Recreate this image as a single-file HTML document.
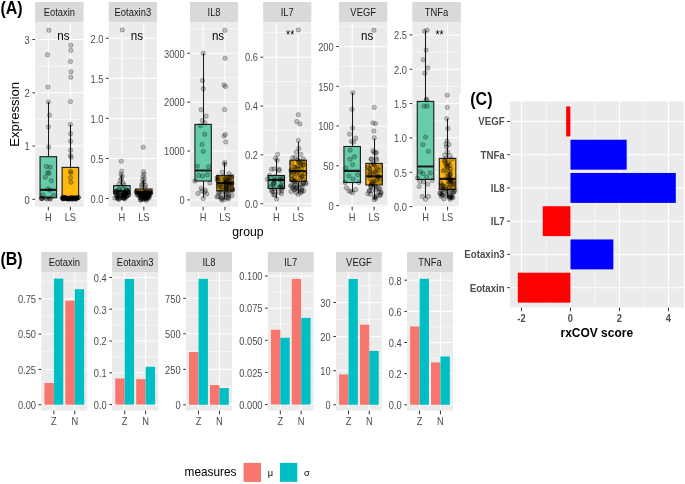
<!DOCTYPE html>
<html><head><meta charset="utf-8"><style>
html,body{margin:0;padding:0;background:#fff;}
body{width:685px;height:484px;overflow:hidden;font-family:"Liberation Sans", sans-serif;}
svg{display:block;}
</style></head><body>
<svg width="685" height="484" viewBox="0 0 685 484" font-family='"Liberation Sans", sans-serif'><defs><clipPath id="cAEotaxin"><rect x="35.1" y="22.3" width="48.49999999999999" height="184.39999999999998"/></clipPath><clipPath id="cAEotaxin3"><rect x="108.7" y="22.3" width="48.3" height="184.39999999999998"/></clipPath><clipPath id="cAIL8"><rect x="190.0" y="22.3" width="48.099999999999994" height="184.39999999999998"/></clipPath><clipPath id="cAIL7"><rect x="263.2" y="22.3" width="48.10000000000002" height="184.39999999999998"/></clipPath><clipPath id="cAVEGF"><rect x="339.0" y="22.3" width="48.30000000000001" height="184.39999999999998"/></clipPath><clipPath id="cATNFa"><rect x="412.3" y="22.3" width="48.5" height="184.39999999999998"/></clipPath><filter id="soft" filterUnits="userSpaceOnUse" x="0" y="0" width="685" height="484" color-interpolation-filters="sRGB"><feGaussianBlur stdDeviation="0.3"/></filter></defs><g filter="url(#soft)"><rect x="0" y="0" width="685" height="484" fill="#fff"/><rect x="35.10" y="2.00" width="48.50" height="20.30" fill="#D9D9D9" />
<text transform="translate(59.35,16.00) scale(1,1.1)" font-size="9.4" text-anchor="middle" fill="#1A1A1A" font-weight="normal" >Eotaxin</text>
<rect x="35.10" y="22.30" width="48.50" height="184.40" fill="#EBEBEB" />
<g clip-path="url(#cAEotaxin)">
<line x1="35.10" y1="172.68" x2="83.60" y2="172.68" stroke="#fff" stroke-width="0.55" />
<line x1="35.10" y1="119.43" x2="83.60" y2="119.43" stroke="#fff" stroke-width="0.55" />
<line x1="35.10" y1="66.18" x2="83.60" y2="66.18" stroke="#fff" stroke-width="0.55" />
<line x1="35.10" y1="199.30" x2="83.60" y2="199.30" stroke="#fff" stroke-width="1.05" />
<line x1="35.10" y1="146.05" x2="83.60" y2="146.05" stroke="#fff" stroke-width="1.05" />
<line x1="35.10" y1="92.80" x2="83.60" y2="92.80" stroke="#fff" stroke-width="1.05" />
<line x1="35.10" y1="39.55" x2="83.60" y2="39.55" stroke="#fff" stroke-width="1.05" />
<line x1="48.33" y1="22.30" x2="48.33" y2="206.70" stroke="#fff" stroke-width="1.05" />
<line x1="70.37" y1="22.30" x2="70.37" y2="206.70" stroke="#fff" stroke-width="1.05" />
<line x1="48.50" y1="102.00" x2="48.50" y2="156.70" stroke="#1a1a1a" stroke-width="1.05" />
<line x1="48.50" y1="197.80" x2="48.50" y2="199.00" stroke="#1a1a1a" stroke-width="1.05" />
<rect x="40.06" y="156.70" width="16.53" height="41.10" fill="#66CDAA" stroke="#1a1a1a" stroke-width="1.1"/>
<line x1="40.06" y1="189.80" x2="56.59" y2="189.80" stroke="#1a1a1a" stroke-width="2.2" />
<line x1="70.50" y1="124.40" x2="70.50" y2="167.40" stroke="#1a1a1a" stroke-width="1.05" />
<line x1="70.50" y1="198.60" x2="70.50" y2="199.00" stroke="#1a1a1a" stroke-width="1.05" />
<rect x="62.11" y="167.40" width="16.53" height="31.20" fill="#FFB90F" stroke="#1a1a1a" stroke-width="1.1"/>
<line x1="62.11" y1="198.30" x2="78.64" y2="198.30" stroke="#1a1a1a" stroke-width="2.2" />
<circle cx="48.80" cy="30.30" r="2.2" fill="rgba(0,0,0,0.22)" stroke="rgba(0,0,0,0.32)" stroke-width="0.75"/>
<circle cx="47.50" cy="54.70" r="2.2" fill="rgba(0,0,0,0.22)" stroke="rgba(0,0,0,0.32)" stroke-width="0.75"/>
<circle cx="48.00" cy="87.10" r="2.2" fill="rgba(0,0,0,0.22)" stroke="rgba(0,0,0,0.32)" stroke-width="0.75"/>
<circle cx="48.40" cy="101.90" r="2.2" fill="rgba(0,0,0,0.22)" stroke="rgba(0,0,0,0.32)" stroke-width="0.75"/>
<circle cx="49.50" cy="115.10" r="2.2" fill="rgba(0,0,0,0.22)" stroke="rgba(0,0,0,0.32)" stroke-width="0.75"/>
<circle cx="48.40" cy="126.90" r="2.2" fill="rgba(0,0,0,0.22)" stroke="rgba(0,0,0,0.32)" stroke-width="0.75"/>
<circle cx="48.60" cy="146.90" r="2.2" fill="rgba(0,0,0,0.22)" stroke="rgba(0,0,0,0.32)" stroke-width="0.75"/>
<circle cx="46.40" cy="166.50" r="2.2" fill="rgba(0,0,0,0.22)" stroke="rgba(0,0,0,0.32)" stroke-width="0.75"/>
<circle cx="50.10" cy="167.30" r="2.2" fill="rgba(0,0,0,0.22)" stroke="rgba(0,0,0,0.32)" stroke-width="0.75"/>
<circle cx="47.60" cy="172.60" r="2.2" fill="rgba(0,0,0,0.22)" stroke="rgba(0,0,0,0.32)" stroke-width="0.75"/>
<circle cx="49.00" cy="173.20" r="2.2" fill="rgba(0,0,0,0.22)" stroke="rgba(0,0,0,0.32)" stroke-width="0.75"/>
<circle cx="45.30" cy="177.20" r="2.2" fill="rgba(0,0,0,0.22)" stroke="rgba(0,0,0,0.32)" stroke-width="0.75"/>
<circle cx="51.30" cy="180.70" r="2.2" fill="rgba(0,0,0,0.22)" stroke="rgba(0,0,0,0.32)" stroke-width="0.75"/>
<circle cx="47.90" cy="188.80" r="2.2" fill="rgba(0,0,0,0.22)" stroke="rgba(0,0,0,0.32)" stroke-width="0.75"/>
<circle cx="50.00" cy="190.20" r="2.2" fill="rgba(0,0,0,0.22)" stroke="rgba(0,0,0,0.32)" stroke-width="0.75"/>
<circle cx="43.00" cy="194.90" r="2.2" fill="rgba(0,0,0,0.22)" stroke="rgba(0,0,0,0.32)" stroke-width="0.75"/>
<circle cx="53.70" cy="195.30" r="2.2" fill="rgba(0,0,0,0.22)" stroke="rgba(0,0,0,0.32)" stroke-width="0.75"/>
<circle cx="45.66" cy="198.18" r="2.2" fill="rgba(0,0,0,0.22)" stroke="rgba(0,0,0,0.32)" stroke-width="0.75"/>
<circle cx="50.56" cy="198.09" r="2.2" fill="rgba(0,0,0,0.22)" stroke="rgba(0,0,0,0.32)" stroke-width="0.75"/>
<circle cx="48.84" cy="198.44" r="2.2" fill="rgba(0,0,0,0.22)" stroke="rgba(0,0,0,0.32)" stroke-width="0.75"/>
<circle cx="41.67" cy="198.61" r="2.2" fill="rgba(0,0,0,0.22)" stroke="rgba(0,0,0,0.32)" stroke-width="0.75"/>
<circle cx="41.36" cy="198.52" r="2.2" fill="rgba(0,0,0,0.22)" stroke="rgba(0,0,0,0.32)" stroke-width="0.75"/>
<circle cx="41.85" cy="198.11" r="2.2" fill="rgba(0,0,0,0.22)" stroke="rgba(0,0,0,0.32)" stroke-width="0.75"/>
<circle cx="47.17" cy="198.99" r="2.2" fill="rgba(0,0,0,0.22)" stroke="rgba(0,0,0,0.32)" stroke-width="0.75"/>
<circle cx="42.66" cy="198.27" r="2.2" fill="rgba(0,0,0,0.22)" stroke="rgba(0,0,0,0.32)" stroke-width="0.75"/>
<circle cx="50.21" cy="199.14" r="2.2" fill="rgba(0,0,0,0.22)" stroke="rgba(0,0,0,0.32)" stroke-width="0.75"/>
<circle cx="70.80" cy="45.20" r="2.2" fill="rgba(0,0,0,0.22)" stroke="rgba(0,0,0,0.32)" stroke-width="0.75"/>
<circle cx="70.80" cy="50.40" r="2.2" fill="rgba(0,0,0,0.22)" stroke="rgba(0,0,0,0.32)" stroke-width="0.75"/>
<circle cx="70.50" cy="61.50" r="2.2" fill="rgba(0,0,0,0.22)" stroke="rgba(0,0,0,0.32)" stroke-width="0.75"/>
<circle cx="71.00" cy="71.80" r="2.2" fill="rgba(0,0,0,0.22)" stroke="rgba(0,0,0,0.32)" stroke-width="0.75"/>
<circle cx="70.80" cy="77.20" r="2.2" fill="rgba(0,0,0,0.22)" stroke="rgba(0,0,0,0.32)" stroke-width="0.75"/>
<circle cx="70.50" cy="101.60" r="2.2" fill="rgba(0,0,0,0.22)" stroke="rgba(0,0,0,0.32)" stroke-width="0.75"/>
<circle cx="70.40" cy="124.40" r="2.2" fill="rgba(0,0,0,0.22)" stroke="rgba(0,0,0,0.32)" stroke-width="0.75"/>
<circle cx="70.60" cy="133.70" r="2.2" fill="rgba(0,0,0,0.22)" stroke="rgba(0,0,0,0.32)" stroke-width="0.75"/>
<circle cx="70.60" cy="141.30" r="2.2" fill="rgba(0,0,0,0.22)" stroke="rgba(0,0,0,0.32)" stroke-width="0.75"/>
<circle cx="70.60" cy="150.20" r="2.2" fill="rgba(0,0,0,0.22)" stroke="rgba(0,0,0,0.32)" stroke-width="0.75"/>
<circle cx="70.40" cy="155.60" r="2.2" fill="rgba(0,0,0,0.22)" stroke="rgba(0,0,0,0.32)" stroke-width="0.75"/>
<circle cx="71.20" cy="157.30" r="2.2" fill="rgba(0,0,0,0.22)" stroke="rgba(0,0,0,0.32)" stroke-width="0.75"/>
<circle cx="70.50" cy="171.30" r="2.2" fill="rgba(0,0,0,0.22)" stroke="rgba(0,0,0,0.32)" stroke-width="0.75"/>
<circle cx="71.00" cy="173.00" r="2.2" fill="rgba(0,0,0,0.22)" stroke="rgba(0,0,0,0.32)" stroke-width="0.75"/>
<circle cx="70.50" cy="177.70" r="2.2" fill="rgba(0,0,0,0.22)" stroke="rgba(0,0,0,0.32)" stroke-width="0.75"/>
<circle cx="71.00" cy="182.30" r="2.2" fill="rgba(0,0,0,0.22)" stroke="rgba(0,0,0,0.32)" stroke-width="0.75"/>
<circle cx="63.00" cy="197.00" r="2.2" fill="rgba(0,0,0,0.22)" stroke="rgba(0,0,0,0.32)" stroke-width="0.75"/>
<circle cx="71.76" cy="198.11" r="2.2" fill="rgba(0,0,0,0.22)" stroke="rgba(0,0,0,0.32)" stroke-width="0.75"/>
<circle cx="78.31" cy="197.48" r="2.2" fill="rgba(0,0,0,0.22)" stroke="rgba(0,0,0,0.32)" stroke-width="0.75"/>
<circle cx="76.38" cy="197.92" r="2.2" fill="rgba(0,0,0,0.22)" stroke="rgba(0,0,0,0.32)" stroke-width="0.75"/>
<circle cx="64.67" cy="197.61" r="2.2" fill="rgba(0,0,0,0.22)" stroke="rgba(0,0,0,0.32)" stroke-width="0.75"/>
<circle cx="67.36" cy="198.87" r="2.2" fill="rgba(0,0,0,0.22)" stroke="rgba(0,0,0,0.32)" stroke-width="0.75"/>
<circle cx="65.26" cy="198.45" r="2.2" fill="rgba(0,0,0,0.22)" stroke="rgba(0,0,0,0.32)" stroke-width="0.75"/>
<circle cx="72.78" cy="198.07" r="2.2" fill="rgba(0,0,0,0.22)" stroke="rgba(0,0,0,0.32)" stroke-width="0.75"/>
<circle cx="71.28" cy="197.51" r="2.2" fill="rgba(0,0,0,0.22)" stroke="rgba(0,0,0,0.32)" stroke-width="0.75"/>
<circle cx="63.28" cy="197.77" r="2.2" fill="rgba(0,0,0,0.22)" stroke="rgba(0,0,0,0.32)" stroke-width="0.75"/>
<circle cx="73.46" cy="198.17" r="2.2" fill="rgba(0,0,0,0.22)" stroke="rgba(0,0,0,0.32)" stroke-width="0.75"/>
<circle cx="67.45" cy="198.45" r="2.2" fill="rgba(0,0,0,0.22)" stroke="rgba(0,0,0,0.32)" stroke-width="0.75"/>
<circle cx="69.73" cy="197.94" r="2.2" fill="rgba(0,0,0,0.22)" stroke="rgba(0,0,0,0.32)" stroke-width="0.75"/>
<circle cx="75.33" cy="198.66" r="2.2" fill="rgba(0,0,0,0.22)" stroke="rgba(0,0,0,0.32)" stroke-width="0.75"/>
<circle cx="66.30" cy="198.43" r="2.2" fill="rgba(0,0,0,0.22)" stroke="rgba(0,0,0,0.32)" stroke-width="0.75"/>
<circle cx="70.91" cy="198.98" r="2.2" fill="rgba(0,0,0,0.22)" stroke="rgba(0,0,0,0.32)" stroke-width="0.75"/>
<circle cx="74.26" cy="197.92" r="2.2" fill="rgba(0,0,0,0.22)" stroke="rgba(0,0,0,0.32)" stroke-width="0.75"/>
<circle cx="78.37" cy="197.61" r="2.2" fill="rgba(0,0,0,0.22)" stroke="rgba(0,0,0,0.32)" stroke-width="0.75"/>
<circle cx="69.16" cy="198.76" r="2.2" fill="rgba(0,0,0,0.22)" stroke="rgba(0,0,0,0.32)" stroke-width="0.75"/>
<circle cx="64.79" cy="198.28" r="2.2" fill="rgba(0,0,0,0.22)" stroke="rgba(0,0,0,0.32)" stroke-width="0.75"/>
<circle cx="62.94" cy="198.60" r="2.2" fill="rgba(0,0,0,0.22)" stroke="rgba(0,0,0,0.32)" stroke-width="0.75"/>
<circle cx="74.84" cy="198.43" r="2.2" fill="rgba(0,0,0,0.22)" stroke="rgba(0,0,0,0.32)" stroke-width="0.75"/>
<circle cx="76.66" cy="197.96" r="2.2" fill="rgba(0,0,0,0.22)" stroke="rgba(0,0,0,0.32)" stroke-width="0.75"/>
<circle cx="73.70" cy="198.47" r="2.2" fill="rgba(0,0,0,0.22)" stroke="rgba(0,0,0,0.32)" stroke-width="0.75"/>
<circle cx="71.81" cy="198.22" r="2.2" fill="rgba(0,0,0,0.22)" stroke="rgba(0,0,0,0.32)" stroke-width="0.75"/>
<circle cx="76.08" cy="199.10" r="2.2" fill="rgba(0,0,0,0.22)" stroke="rgba(0,0,0,0.32)" stroke-width="0.75"/>
<circle cx="70.08" cy="198.60" r="2.2" fill="rgba(0,0,0,0.22)" stroke="rgba(0,0,0,0.32)" stroke-width="0.75"/>
<circle cx="63.29" cy="198.66" r="2.2" fill="rgba(0,0,0,0.22)" stroke="rgba(0,0,0,0.32)" stroke-width="0.75"/>
<circle cx="72.91" cy="199.19" r="2.2" fill="rgba(0,0,0,0.22)" stroke="rgba(0,0,0,0.32)" stroke-width="0.75"/>
<circle cx="75.78" cy="197.91" r="2.2" fill="rgba(0,0,0,0.22)" stroke="rgba(0,0,0,0.32)" stroke-width="0.75"/>
<circle cx="68.63" cy="198.60" r="2.2" fill="rgba(0,0,0,0.22)" stroke="rgba(0,0,0,0.32)" stroke-width="0.75"/>
<circle cx="62.67" cy="198.23" r="2.2" fill="rgba(0,0,0,0.22)" stroke="rgba(0,0,0,0.32)" stroke-width="0.75"/>
<circle cx="65.06" cy="197.61" r="2.2" fill="rgba(0,0,0,0.22)" stroke="rgba(0,0,0,0.32)" stroke-width="0.75"/>
<circle cx="63.27" cy="198.78" r="2.2" fill="rgba(0,0,0,0.22)" stroke="rgba(0,0,0,0.32)" stroke-width="0.75"/>
<circle cx="64.42" cy="197.85" r="2.2" fill="rgba(0,0,0,0.22)" stroke="rgba(0,0,0,0.32)" stroke-width="0.75"/>
<circle cx="68.71" cy="198.97" r="2.2" fill="rgba(0,0,0,0.22)" stroke="rgba(0,0,0,0.32)" stroke-width="0.75"/>
<circle cx="63.62" cy="198.21" r="2.2" fill="rgba(0,0,0,0.22)" stroke="rgba(0,0,0,0.32)" stroke-width="0.75"/>
<circle cx="71.31" cy="198.99" r="2.2" fill="rgba(0,0,0,0.22)" stroke="rgba(0,0,0,0.32)" stroke-width="0.75"/>
<circle cx="75.74" cy="198.96" r="2.2" fill="rgba(0,0,0,0.22)" stroke="rgba(0,0,0,0.32)" stroke-width="0.75"/>
<circle cx="66.87" cy="198.15" r="2.2" fill="rgba(0,0,0,0.22)" stroke="rgba(0,0,0,0.32)" stroke-width="0.75"/>
<circle cx="68.18" cy="198.99" r="2.2" fill="rgba(0,0,0,0.22)" stroke="rgba(0,0,0,0.32)" stroke-width="0.75"/>
<circle cx="78.01" cy="197.67" r="2.2" fill="rgba(0,0,0,0.22)" stroke="rgba(0,0,0,0.32)" stroke-width="0.75"/>
<circle cx="65.19" cy="197.82" r="2.2" fill="rgba(0,0,0,0.22)" stroke="rgba(0,0,0,0.32)" stroke-width="0.75"/>
<circle cx="66.13" cy="198.27" r="2.2" fill="rgba(0,0,0,0.22)" stroke="rgba(0,0,0,0.32)" stroke-width="0.75"/>
<circle cx="71.96" cy="197.87" r="2.2" fill="rgba(0,0,0,0.22)" stroke="rgba(0,0,0,0.32)" stroke-width="0.75"/>
<circle cx="62.37" cy="198.15" r="2.2" fill="rgba(0,0,0,0.22)" stroke="rgba(0,0,0,0.32)" stroke-width="0.75"/>
</g>
<text transform="translate(63.35,39.60) scale(1,1.1)" font-size="11.6" text-anchor="middle" fill="#000" font-weight="normal" >ns</text>
<line x1="32.40" y1="199.30" x2="35.10" y2="199.30" stroke="#333" stroke-width="1.0" />
<text transform="translate(29.80,203.60) scale(1,1.15)" font-size="9.3" text-anchor="end" fill="#4D4D4D" font-weight="normal" >0</text>
<line x1="32.40" y1="146.05" x2="35.10" y2="146.05" stroke="#333" stroke-width="1.0" />
<text transform="translate(29.80,150.35) scale(1,1.15)" font-size="9.3" text-anchor="end" fill="#4D4D4D" font-weight="normal" >1</text>
<line x1="32.40" y1="92.80" x2="35.10" y2="92.80" stroke="#333" stroke-width="1.0" />
<text transform="translate(29.80,97.10) scale(1,1.15)" font-size="9.3" text-anchor="end" fill="#4D4D4D" font-weight="normal" >2</text>
<line x1="32.40" y1="39.55" x2="35.10" y2="39.55" stroke="#333" stroke-width="1.0" />
<text transform="translate(29.80,43.85) scale(1,1.15)" font-size="9.3" text-anchor="end" fill="#4D4D4D" font-weight="normal" >3</text>
<line x1="48.33" y1="206.70" x2="48.33" y2="210.40" stroke="#333" stroke-width="1.0" />
<text transform="translate(48.33,220.80) scale(1,1.15)" font-size="9.3" text-anchor="middle" fill="#4D4D4D" font-weight="normal" >H</text>
<line x1="70.37" y1="206.70" x2="70.37" y2="210.40" stroke="#333" stroke-width="1.0" />
<text transform="translate(70.37,220.80) scale(1,1.15)" font-size="9.3" text-anchor="middle" fill="#4D4D4D" font-weight="normal" >LS</text>
<rect x="108.70" y="2.00" width="48.30" height="20.30" fill="#D9D9D9" />
<text transform="translate(132.85,16.00) scale(1,1.1)" font-size="9.4" text-anchor="middle" fill="#1A1A1A" font-weight="normal" >Eotaxin3</text>
<rect x="108.70" y="22.30" width="48.30" height="184.40" fill="#EBEBEB" />
<g clip-path="url(#cAEotaxin3)">
<line x1="108.70" y1="178.47" x2="157.00" y2="178.47" stroke="#fff" stroke-width="0.55" />
<line x1="108.70" y1="138.43" x2="157.00" y2="138.43" stroke="#fff" stroke-width="0.55" />
<line x1="108.70" y1="98.38" x2="157.00" y2="98.38" stroke="#fff" stroke-width="0.55" />
<line x1="108.70" y1="58.33" x2="157.00" y2="58.33" stroke="#fff" stroke-width="0.55" />
<line x1="108.70" y1="198.50" x2="157.00" y2="198.50" stroke="#fff" stroke-width="1.05" />
<line x1="108.70" y1="158.45" x2="157.00" y2="158.45" stroke="#fff" stroke-width="1.05" />
<line x1="108.70" y1="118.40" x2="157.00" y2="118.40" stroke="#fff" stroke-width="1.05" />
<line x1="108.70" y1="78.35" x2="157.00" y2="78.35" stroke="#fff" stroke-width="1.05" />
<line x1="108.70" y1="38.30" x2="157.00" y2="38.30" stroke="#fff" stroke-width="1.05" />
<line x1="121.87" y1="22.30" x2="121.87" y2="206.70" stroke="#fff" stroke-width="1.05" />
<line x1="143.83" y1="22.30" x2="143.83" y2="206.70" stroke="#fff" stroke-width="1.05" />
<line x1="121.50" y1="174.80" x2="121.50" y2="185.60" stroke="#1a1a1a" stroke-width="1.05" />
<line x1="121.50" y1="193.80" x2="121.50" y2="198.00" stroke="#1a1a1a" stroke-width="1.05" />
<rect x="113.64" y="185.60" width="16.47" height="8.20" fill="#66CDAA" stroke="#1a1a1a" stroke-width="1.1"/>
<line x1="113.64" y1="191.40" x2="130.11" y2="191.40" stroke="#1a1a1a" stroke-width="2.2" />
<line x1="143.50" y1="180.00" x2="143.50" y2="189.00" stroke="#1a1a1a" stroke-width="1.05" />
<line x1="143.50" y1="194.20" x2="143.50" y2="199.50" stroke="#1a1a1a" stroke-width="1.05" />
<rect x="135.59" y="189.00" width="16.47" height="5.20" fill="#FFB90F" stroke="#1a1a1a" stroke-width="1.1"/>
<line x1="135.59" y1="191.80" x2="152.06" y2="191.80" stroke="#1a1a1a" stroke-width="2.2" />
<circle cx="122.30" cy="29.90" r="2.2" fill="rgba(0,0,0,0.22)" stroke="rgba(0,0,0,0.32)" stroke-width="0.75"/>
<circle cx="121.30" cy="161.20" r="2.2" fill="rgba(0,0,0,0.22)" stroke="rgba(0,0,0,0.32)" stroke-width="0.75"/>
<circle cx="121.70" cy="171.10" r="2.2" fill="rgba(0,0,0,0.22)" stroke="rgba(0,0,0,0.32)" stroke-width="0.75"/>
<circle cx="121.00" cy="174.20" r="2.2" fill="rgba(0,0,0,0.22)" stroke="rgba(0,0,0,0.32)" stroke-width="0.75"/>
<circle cx="122.20" cy="176.00" r="2.2" fill="rgba(0,0,0,0.22)" stroke="rgba(0,0,0,0.32)" stroke-width="0.75"/>
<circle cx="121.50" cy="178.50" r="2.2" fill="rgba(0,0,0,0.22)" stroke="rgba(0,0,0,0.32)" stroke-width="0.75"/>
<circle cx="120.50" cy="180.50" r="2.2" fill="rgba(0,0,0,0.22)" stroke="rgba(0,0,0,0.32)" stroke-width="0.75"/>
<circle cx="122.80" cy="182.80" r="2.2" fill="rgba(0,0,0,0.22)" stroke="rgba(0,0,0,0.32)" stroke-width="0.75"/>
<circle cx="119.00" cy="184.50" r="2.2" fill="rgba(0,0,0,0.22)" stroke="rgba(0,0,0,0.32)" stroke-width="0.75"/>
<circle cx="124.00" cy="185.00" r="2.2" fill="rgba(0,0,0,0.22)" stroke="rgba(0,0,0,0.32)" stroke-width="0.75"/>
<circle cx="122.56" cy="189.12" r="2.2" fill="rgba(0,0,0,0.22)" stroke="rgba(0,0,0,0.32)" stroke-width="0.75"/>
<circle cx="119.21" cy="189.58" r="2.2" fill="rgba(0,0,0,0.22)" stroke="rgba(0,0,0,0.32)" stroke-width="0.75"/>
<circle cx="126.30" cy="189.79" r="2.2" fill="rgba(0,0,0,0.22)" stroke="rgba(0,0,0,0.32)" stroke-width="0.75"/>
<circle cx="127.00" cy="190.14" r="2.2" fill="rgba(0,0,0,0.22)" stroke="rgba(0,0,0,0.32)" stroke-width="0.75"/>
<circle cx="118.48" cy="190.51" r="2.2" fill="rgba(0,0,0,0.22)" stroke="rgba(0,0,0,0.32)" stroke-width="0.75"/>
<circle cx="126.74" cy="190.81" r="2.2" fill="rgba(0,0,0,0.22)" stroke="rgba(0,0,0,0.32)" stroke-width="0.75"/>
<circle cx="116.59" cy="191.00" r="2.2" fill="rgba(0,0,0,0.22)" stroke="rgba(0,0,0,0.32)" stroke-width="0.75"/>
<circle cx="127.68" cy="191.24" r="2.2" fill="rgba(0,0,0,0.22)" stroke="rgba(0,0,0,0.32)" stroke-width="0.75"/>
<circle cx="115.35" cy="191.55" r="2.2" fill="rgba(0,0,0,0.22)" stroke="rgba(0,0,0,0.32)" stroke-width="0.75"/>
<circle cx="124.62" cy="191.90" r="2.2" fill="rgba(0,0,0,0.22)" stroke="rgba(0,0,0,0.32)" stroke-width="0.75"/>
<circle cx="118.22" cy="192.24" r="2.2" fill="rgba(0,0,0,0.22)" stroke="rgba(0,0,0,0.32)" stroke-width="0.75"/>
<circle cx="127.54" cy="192.47" r="2.2" fill="rgba(0,0,0,0.22)" stroke="rgba(0,0,0,0.32)" stroke-width="0.75"/>
<circle cx="125.33" cy="192.81" r="2.2" fill="rgba(0,0,0,0.22)" stroke="rgba(0,0,0,0.32)" stroke-width="0.75"/>
<circle cx="127.01" cy="193.10" r="2.2" fill="rgba(0,0,0,0.22)" stroke="rgba(0,0,0,0.32)" stroke-width="0.75"/>
<circle cx="125.61" cy="193.56" r="2.2" fill="rgba(0,0,0,0.22)" stroke="rgba(0,0,0,0.32)" stroke-width="0.75"/>
<circle cx="123.23" cy="193.78" r="2.2" fill="rgba(0,0,0,0.22)" stroke="rgba(0,0,0,0.32)" stroke-width="0.75"/>
<circle cx="116.04" cy="193.58" r="2.2" fill="rgba(0,0,0,0.22)" stroke="rgba(0,0,0,0.32)" stroke-width="0.75"/>
<circle cx="123.37" cy="193.84" r="2.2" fill="rgba(0,0,0,0.22)" stroke="rgba(0,0,0,0.32)" stroke-width="0.75"/>
<circle cx="125.00" cy="193.98" r="2.2" fill="rgba(0,0,0,0.22)" stroke="rgba(0,0,0,0.32)" stroke-width="0.75"/>
<circle cx="128.54" cy="194.11" r="2.2" fill="rgba(0,0,0,0.22)" stroke="rgba(0,0,0,0.32)" stroke-width="0.75"/>
<circle cx="125.25" cy="194.34" r="2.2" fill="rgba(0,0,0,0.22)" stroke="rgba(0,0,0,0.32)" stroke-width="0.75"/>
<circle cx="117.97" cy="194.61" r="2.2" fill="rgba(0,0,0,0.22)" stroke="rgba(0,0,0,0.32)" stroke-width="0.75"/>
<circle cx="124.08" cy="194.68" r="2.2" fill="rgba(0,0,0,0.22)" stroke="rgba(0,0,0,0.32)" stroke-width="0.75"/>
<circle cx="121.29" cy="194.95" r="2.2" fill="rgba(0,0,0,0.22)" stroke="rgba(0,0,0,0.32)" stroke-width="0.75"/>
<circle cx="128.77" cy="195.14" r="2.2" fill="rgba(0,0,0,0.22)" stroke="rgba(0,0,0,0.32)" stroke-width="0.75"/>
<circle cx="122.31" cy="195.33" r="2.2" fill="rgba(0,0,0,0.22)" stroke="rgba(0,0,0,0.32)" stroke-width="0.75"/>
<circle cx="127.34" cy="195.58" r="2.2" fill="rgba(0,0,0,0.22)" stroke="rgba(0,0,0,0.32)" stroke-width="0.75"/>
<circle cx="116.67" cy="195.67" r="2.2" fill="rgba(0,0,0,0.22)" stroke="rgba(0,0,0,0.32)" stroke-width="0.75"/>
<circle cx="117.02" cy="195.85" r="2.2" fill="rgba(0,0,0,0.22)" stroke="rgba(0,0,0,0.32)" stroke-width="0.75"/>
<circle cx="126.40" cy="196.10" r="2.2" fill="rgba(0,0,0,0.22)" stroke="rgba(0,0,0,0.32)" stroke-width="0.75"/>
<circle cx="127.33" cy="196.26" r="2.2" fill="rgba(0,0,0,0.22)" stroke="rgba(0,0,0,0.32)" stroke-width="0.75"/>
<circle cx="118.02" cy="196.53" r="2.2" fill="rgba(0,0,0,0.22)" stroke="rgba(0,0,0,0.32)" stroke-width="0.75"/>
<circle cx="124.61" cy="196.73" r="2.2" fill="rgba(0,0,0,0.22)" stroke="rgba(0,0,0,0.32)" stroke-width="0.75"/>
<circle cx="117.89" cy="196.91" r="2.2" fill="rgba(0,0,0,0.22)" stroke="rgba(0,0,0,0.32)" stroke-width="0.75"/>
<circle cx="123.82" cy="197.02" r="2.2" fill="rgba(0,0,0,0.22)" stroke="rgba(0,0,0,0.32)" stroke-width="0.75"/>
<circle cx="125.76" cy="197.23" r="2.2" fill="rgba(0,0,0,0.22)" stroke="rgba(0,0,0,0.32)" stroke-width="0.75"/>
<circle cx="123.79" cy="197.37" r="2.2" fill="rgba(0,0,0,0.22)" stroke="rgba(0,0,0,0.32)" stroke-width="0.75"/>
<circle cx="124.26" cy="197.60" r="2.2" fill="rgba(0,0,0,0.22)" stroke="rgba(0,0,0,0.32)" stroke-width="0.75"/>
<circle cx="114.85" cy="197.90" r="2.2" fill="rgba(0,0,0,0.22)" stroke="rgba(0,0,0,0.32)" stroke-width="0.75"/>
<circle cx="117.23" cy="198.09" r="2.2" fill="rgba(0,0,0,0.22)" stroke="rgba(0,0,0,0.32)" stroke-width="0.75"/>
<circle cx="117.15" cy="198.28" r="2.2" fill="rgba(0,0,0,0.22)" stroke="rgba(0,0,0,0.32)" stroke-width="0.75"/>
<circle cx="124.35" cy="198.36" r="2.2" fill="rgba(0,0,0,0.22)" stroke="rgba(0,0,0,0.32)" stroke-width="0.75"/>
<circle cx="119.33" cy="197.08" r="2.2" fill="rgba(0,0,0,0.22)" stroke="rgba(0,0,0,0.32)" stroke-width="0.75"/>
<circle cx="121.85" cy="197.50" r="2.2" fill="rgba(0,0,0,0.22)" stroke="rgba(0,0,0,0.32)" stroke-width="0.75"/>
<circle cx="123.42" cy="197.87" r="2.2" fill="rgba(0,0,0,0.22)" stroke="rgba(0,0,0,0.32)" stroke-width="0.75"/>
<circle cx="122.93" cy="198.13" r="2.2" fill="rgba(0,0,0,0.22)" stroke="rgba(0,0,0,0.32)" stroke-width="0.75"/>
<circle cx="118.76" cy="198.30" r="2.2" fill="rgba(0,0,0,0.22)" stroke="rgba(0,0,0,0.32)" stroke-width="0.75"/>
<circle cx="124.68" cy="198.82" r="2.2" fill="rgba(0,0,0,0.22)" stroke="rgba(0,0,0,0.32)" stroke-width="0.75"/>
<circle cx="119.19" cy="199.09" r="2.2" fill="rgba(0,0,0,0.22)" stroke="rgba(0,0,0,0.32)" stroke-width="0.75"/>
<circle cx="118.62" cy="199.26" r="2.2" fill="rgba(0,0,0,0.22)" stroke="rgba(0,0,0,0.32)" stroke-width="0.75"/>
<circle cx="143.20" cy="147.20" r="2.2" fill="rgba(0,0,0,0.22)" stroke="rgba(0,0,0,0.32)" stroke-width="0.75"/>
<circle cx="143.40" cy="171.70" r="2.2" fill="rgba(0,0,0,0.22)" stroke="rgba(0,0,0,0.32)" stroke-width="0.75"/>
<circle cx="144.00" cy="174.00" r="2.2" fill="rgba(0,0,0,0.22)" stroke="rgba(0,0,0,0.32)" stroke-width="0.75"/>
<circle cx="143.00" cy="176.50" r="2.2" fill="rgba(0,0,0,0.22)" stroke="rgba(0,0,0,0.32)" stroke-width="0.75"/>
<circle cx="144.20" cy="178.50" r="2.2" fill="rgba(0,0,0,0.22)" stroke="rgba(0,0,0,0.32)" stroke-width="0.75"/>
<circle cx="142.50" cy="180.00" r="2.2" fill="rgba(0,0,0,0.22)" stroke="rgba(0,0,0,0.32)" stroke-width="0.75"/>
<circle cx="144.00" cy="182.00" r="2.2" fill="rgba(0,0,0,0.22)" stroke="rgba(0,0,0,0.32)" stroke-width="0.75"/>
<circle cx="143.00" cy="183.50" r="2.2" fill="rgba(0,0,0,0.22)" stroke="rgba(0,0,0,0.32)" stroke-width="0.75"/>
<circle cx="141.50" cy="185.00" r="2.2" fill="rgba(0,0,0,0.22)" stroke="rgba(0,0,0,0.32)" stroke-width="0.75"/>
<circle cx="145.50" cy="185.50" r="2.2" fill="rgba(0,0,0,0.22)" stroke="rgba(0,0,0,0.32)" stroke-width="0.75"/>
<circle cx="142.00" cy="187.00" r="2.2" fill="rgba(0,0,0,0.22)" stroke="rgba(0,0,0,0.32)" stroke-width="0.75"/>
<circle cx="145.00" cy="187.50" r="2.2" fill="rgba(0,0,0,0.22)" stroke="rgba(0,0,0,0.32)" stroke-width="0.75"/>
<circle cx="148.01" cy="191.54" r="2.2" fill="rgba(0,0,0,0.22)" stroke="rgba(0,0,0,0.32)" stroke-width="0.75"/>
<circle cx="136.21" cy="191.71" r="2.2" fill="rgba(0,0,0,0.22)" stroke="rgba(0,0,0,0.32)" stroke-width="0.75"/>
<circle cx="138.74" cy="191.77" r="2.2" fill="rgba(0,0,0,0.22)" stroke="rgba(0,0,0,0.32)" stroke-width="0.75"/>
<circle cx="136.36" cy="191.91" r="2.2" fill="rgba(0,0,0,0.22)" stroke="rgba(0,0,0,0.32)" stroke-width="0.75"/>
<circle cx="145.35" cy="191.97" r="2.2" fill="rgba(0,0,0,0.22)" stroke="rgba(0,0,0,0.32)" stroke-width="0.75"/>
<circle cx="149.45" cy="192.16" r="2.2" fill="rgba(0,0,0,0.22)" stroke="rgba(0,0,0,0.32)" stroke-width="0.75"/>
<circle cx="144.02" cy="192.20" r="2.2" fill="rgba(0,0,0,0.22)" stroke="rgba(0,0,0,0.32)" stroke-width="0.75"/>
<circle cx="150.75" cy="192.39" r="2.2" fill="rgba(0,0,0,0.22)" stroke="rgba(0,0,0,0.32)" stroke-width="0.75"/>
<circle cx="143.39" cy="192.44" r="2.2" fill="rgba(0,0,0,0.22)" stroke="rgba(0,0,0,0.32)" stroke-width="0.75"/>
<circle cx="144.64" cy="192.54" r="2.2" fill="rgba(0,0,0,0.22)" stroke="rgba(0,0,0,0.32)" stroke-width="0.75"/>
<circle cx="148.45" cy="192.72" r="2.2" fill="rgba(0,0,0,0.22)" stroke="rgba(0,0,0,0.32)" stroke-width="0.75"/>
<circle cx="146.97" cy="192.80" r="2.2" fill="rgba(0,0,0,0.22)" stroke="rgba(0,0,0,0.32)" stroke-width="0.75"/>
<circle cx="140.32" cy="192.90" r="2.2" fill="rgba(0,0,0,0.22)" stroke="rgba(0,0,0,0.32)" stroke-width="0.75"/>
<circle cx="139.68" cy="193.05" r="2.2" fill="rgba(0,0,0,0.22)" stroke="rgba(0,0,0,0.32)" stroke-width="0.75"/>
<circle cx="150.17" cy="193.11" r="2.2" fill="rgba(0,0,0,0.22)" stroke="rgba(0,0,0,0.32)" stroke-width="0.75"/>
<circle cx="148.85" cy="193.22" r="2.2" fill="rgba(0,0,0,0.22)" stroke="rgba(0,0,0,0.32)" stroke-width="0.75"/>
<circle cx="140.61" cy="193.33" r="2.2" fill="rgba(0,0,0,0.22)" stroke="rgba(0,0,0,0.32)" stroke-width="0.75"/>
<circle cx="142.24" cy="193.44" r="2.2" fill="rgba(0,0,0,0.22)" stroke="rgba(0,0,0,0.32)" stroke-width="0.75"/>
<circle cx="144.73" cy="193.57" r="2.2" fill="rgba(0,0,0,0.22)" stroke="rgba(0,0,0,0.32)" stroke-width="0.75"/>
<circle cx="145.69" cy="193.70" r="2.2" fill="rgba(0,0,0,0.22)" stroke="rgba(0,0,0,0.32)" stroke-width="0.75"/>
<circle cx="140.17" cy="193.80" r="2.2" fill="rgba(0,0,0,0.22)" stroke="rgba(0,0,0,0.32)" stroke-width="0.75"/>
<circle cx="143.65" cy="193.92" r="2.2" fill="rgba(0,0,0,0.22)" stroke="rgba(0,0,0,0.32)" stroke-width="0.75"/>
<circle cx="145.22" cy="194.03" r="2.2" fill="rgba(0,0,0,0.22)" stroke="rgba(0,0,0,0.32)" stroke-width="0.75"/>
<circle cx="141.96" cy="194.14" r="2.2" fill="rgba(0,0,0,0.22)" stroke="rgba(0,0,0,0.32)" stroke-width="0.75"/>
<circle cx="145.47" cy="194.21" r="2.2" fill="rgba(0,0,0,0.22)" stroke="rgba(0,0,0,0.32)" stroke-width="0.75"/>
<circle cx="149.85" cy="194.34" r="2.2" fill="rgba(0,0,0,0.22)" stroke="rgba(0,0,0,0.32)" stroke-width="0.75"/>
<circle cx="145.37" cy="194.50" r="2.2" fill="rgba(0,0,0,0.22)" stroke="rgba(0,0,0,0.32)" stroke-width="0.75"/>
<circle cx="139.07" cy="194.58" r="2.2" fill="rgba(0,0,0,0.22)" stroke="rgba(0,0,0,0.32)" stroke-width="0.75"/>
<circle cx="137.32" cy="194.71" r="2.2" fill="rgba(0,0,0,0.22)" stroke="rgba(0,0,0,0.32)" stroke-width="0.75"/>
<circle cx="143.23" cy="194.78" r="2.2" fill="rgba(0,0,0,0.22)" stroke="rgba(0,0,0,0.32)" stroke-width="0.75"/>
<circle cx="148.25" cy="194.91" r="2.2" fill="rgba(0,0,0,0.22)" stroke="rgba(0,0,0,0.32)" stroke-width="0.75"/>
<circle cx="145.99" cy="195.07" r="2.2" fill="rgba(0,0,0,0.22)" stroke="rgba(0,0,0,0.32)" stroke-width="0.75"/>
<circle cx="144.04" cy="195.16" r="2.2" fill="rgba(0,0,0,0.22)" stroke="rgba(0,0,0,0.32)" stroke-width="0.75"/>
<circle cx="148.56" cy="195.31" r="2.2" fill="rgba(0,0,0,0.22)" stroke="rgba(0,0,0,0.32)" stroke-width="0.75"/>
<circle cx="143.76" cy="195.39" r="2.2" fill="rgba(0,0,0,0.22)" stroke="rgba(0,0,0,0.32)" stroke-width="0.75"/>
<circle cx="140.84" cy="195.49" r="2.2" fill="rgba(0,0,0,0.22)" stroke="rgba(0,0,0,0.32)" stroke-width="0.75"/>
<circle cx="147.72" cy="195.60" r="2.2" fill="rgba(0,0,0,0.22)" stroke="rgba(0,0,0,0.32)" stroke-width="0.75"/>
<circle cx="148.11" cy="195.72" r="2.2" fill="rgba(0,0,0,0.22)" stroke="rgba(0,0,0,0.32)" stroke-width="0.75"/>
<circle cx="141.41" cy="195.85" r="2.2" fill="rgba(0,0,0,0.22)" stroke="rgba(0,0,0,0.32)" stroke-width="0.75"/>
<circle cx="141.42" cy="195.98" r="2.2" fill="rgba(0,0,0,0.22)" stroke="rgba(0,0,0,0.32)" stroke-width="0.75"/>
<circle cx="148.82" cy="195.11" r="2.2" fill="rgba(0,0,0,0.22)" stroke="rgba(0,0,0,0.32)" stroke-width="0.75"/>
<circle cx="146.56" cy="195.35" r="2.2" fill="rgba(0,0,0,0.22)" stroke="rgba(0,0,0,0.32)" stroke-width="0.75"/>
<circle cx="145.64" cy="195.44" r="2.2" fill="rgba(0,0,0,0.22)" stroke="rgba(0,0,0,0.32)" stroke-width="0.75"/>
<circle cx="138.64" cy="195.63" r="2.2" fill="rgba(0,0,0,0.22)" stroke="rgba(0,0,0,0.32)" stroke-width="0.75"/>
<circle cx="139.20" cy="195.83" r="2.2" fill="rgba(0,0,0,0.22)" stroke="rgba(0,0,0,0.32)" stroke-width="0.75"/>
<circle cx="149.34" cy="196.15" r="2.2" fill="rgba(0,0,0,0.22)" stroke="rgba(0,0,0,0.32)" stroke-width="0.75"/>
<circle cx="142.59" cy="196.24" r="2.2" fill="rgba(0,0,0,0.22)" stroke="rgba(0,0,0,0.32)" stroke-width="0.75"/>
<circle cx="143.13" cy="196.53" r="2.2" fill="rgba(0,0,0,0.22)" stroke="rgba(0,0,0,0.32)" stroke-width="0.75"/>
<circle cx="148.44" cy="196.76" r="2.2" fill="rgba(0,0,0,0.22)" stroke="rgba(0,0,0,0.32)" stroke-width="0.75"/>
<circle cx="143.67" cy="196.86" r="2.2" fill="rgba(0,0,0,0.22)" stroke="rgba(0,0,0,0.32)" stroke-width="0.75"/>
<circle cx="145.51" cy="197.08" r="2.2" fill="rgba(0,0,0,0.22)" stroke="rgba(0,0,0,0.32)" stroke-width="0.75"/>
<circle cx="145.07" cy="197.38" r="2.2" fill="rgba(0,0,0,0.22)" stroke="rgba(0,0,0,0.32)" stroke-width="0.75"/>
<circle cx="147.67" cy="197.45" r="2.2" fill="rgba(0,0,0,0.22)" stroke="rgba(0,0,0,0.32)" stroke-width="0.75"/>
<circle cx="141.98" cy="197.70" r="2.2" fill="rgba(0,0,0,0.22)" stroke="rgba(0,0,0,0.32)" stroke-width="0.75"/>
<circle cx="149.15" cy="197.85" r="2.2" fill="rgba(0,0,0,0.22)" stroke="rgba(0,0,0,0.32)" stroke-width="0.75"/>
<circle cx="140.97" cy="198.14" r="2.2" fill="rgba(0,0,0,0.22)" stroke="rgba(0,0,0,0.32)" stroke-width="0.75"/>
<circle cx="141.44" cy="198.31" r="2.2" fill="rgba(0,0,0,0.22)" stroke="rgba(0,0,0,0.32)" stroke-width="0.75"/>
<circle cx="147.55" cy="198.42" r="2.2" fill="rgba(0,0,0,0.22)" stroke="rgba(0,0,0,0.32)" stroke-width="0.75"/>
<circle cx="145.14" cy="198.72" r="2.2" fill="rgba(0,0,0,0.22)" stroke="rgba(0,0,0,0.32)" stroke-width="0.75"/>
<circle cx="146.22" cy="198.83" r="2.2" fill="rgba(0,0,0,0.22)" stroke="rgba(0,0,0,0.32)" stroke-width="0.75"/>
<circle cx="146.33" cy="197.72" r="2.2" fill="rgba(0,0,0,0.22)" stroke="rgba(0,0,0,0.32)" stroke-width="0.75"/>
<circle cx="145.80" cy="197.86" r="2.2" fill="rgba(0,0,0,0.22)" stroke="rgba(0,0,0,0.32)" stroke-width="0.75"/>
<circle cx="140.59" cy="198.14" r="2.2" fill="rgba(0,0,0,0.22)" stroke="rgba(0,0,0,0.32)" stroke-width="0.75"/>
<circle cx="146.40" cy="198.49" r="2.2" fill="rgba(0,0,0,0.22)" stroke="rgba(0,0,0,0.32)" stroke-width="0.75"/>
<circle cx="142.80" cy="198.83" r="2.2" fill="rgba(0,0,0,0.22)" stroke="rgba(0,0,0,0.32)" stroke-width="0.75"/>
<circle cx="142.59" cy="199.23" r="2.2" fill="rgba(0,0,0,0.22)" stroke="rgba(0,0,0,0.32)" stroke-width="0.75"/>
<circle cx="144.26" cy="199.37" r="2.2" fill="rgba(0,0,0,0.22)" stroke="rgba(0,0,0,0.32)" stroke-width="0.75"/>
<circle cx="140.66" cy="199.77" r="2.2" fill="rgba(0,0,0,0.22)" stroke="rgba(0,0,0,0.32)" stroke-width="0.75"/>
<circle cx="140.51" cy="199.95" r="2.2" fill="rgba(0,0,0,0.22)" stroke="rgba(0,0,0,0.32)" stroke-width="0.75"/>
<circle cx="146.42" cy="200.40" r="2.2" fill="rgba(0,0,0,0.22)" stroke="rgba(0,0,0,0.32)" stroke-width="0.75"/>
</g>
<text transform="translate(136.85,39.60) scale(1,1.1)" font-size="11.6" text-anchor="middle" fill="#000" font-weight="normal" >ns</text>
<line x1="106.00" y1="198.50" x2="108.70" y2="198.50" stroke="#333" stroke-width="1.0" />
<text transform="translate(103.40,202.80) scale(1,1.15)" font-size="9.3" text-anchor="end" fill="#4D4D4D" font-weight="normal" >0.0</text>
<line x1="106.00" y1="158.45" x2="108.70" y2="158.45" stroke="#333" stroke-width="1.0" />
<text transform="translate(103.40,162.75) scale(1,1.15)" font-size="9.3" text-anchor="end" fill="#4D4D4D" font-weight="normal" >0.5</text>
<line x1="106.00" y1="118.40" x2="108.70" y2="118.40" stroke="#333" stroke-width="1.0" />
<text transform="translate(103.40,122.70) scale(1,1.15)" font-size="9.3" text-anchor="end" fill="#4D4D4D" font-weight="normal" >1.0</text>
<line x1="106.00" y1="78.35" x2="108.70" y2="78.35" stroke="#333" stroke-width="1.0" />
<text transform="translate(103.40,82.65) scale(1,1.15)" font-size="9.3" text-anchor="end" fill="#4D4D4D" font-weight="normal" >1.5</text>
<line x1="106.00" y1="38.30" x2="108.70" y2="38.30" stroke="#333" stroke-width="1.0" />
<text transform="translate(103.40,42.60) scale(1,1.15)" font-size="9.3" text-anchor="end" fill="#4D4D4D" font-weight="normal" >2.0</text>
<line x1="121.87" y1="206.70" x2="121.87" y2="210.40" stroke="#333" stroke-width="1.0" />
<text transform="translate(121.87,220.80) scale(1,1.15)" font-size="9.3" text-anchor="middle" fill="#4D4D4D" font-weight="normal" >H</text>
<line x1="143.83" y1="206.70" x2="143.83" y2="210.40" stroke="#333" stroke-width="1.0" />
<text transform="translate(143.83,220.80) scale(1,1.15)" font-size="9.3" text-anchor="middle" fill="#4D4D4D" font-weight="normal" >LS</text>
<rect x="190.00" y="2.00" width="48.10" height="20.30" fill="#D9D9D9" />
<text transform="translate(214.05,16.00) scale(1,1.1)" font-size="9.4" text-anchor="middle" fill="#1A1A1A" font-weight="normal" >IL8</text>
<rect x="190.00" y="22.30" width="48.10" height="184.40" fill="#EBEBEB" />
<g clip-path="url(#cAIL8)">
<line x1="190.00" y1="175.47" x2="238.10" y2="175.47" stroke="#fff" stroke-width="0.55" />
<line x1="190.00" y1="126.60" x2="238.10" y2="126.60" stroke="#fff" stroke-width="0.55" />
<line x1="190.00" y1="77.73" x2="238.10" y2="77.73" stroke="#fff" stroke-width="0.55" />
<line x1="190.00" y1="28.86" x2="238.10" y2="28.86" stroke="#fff" stroke-width="0.55" />
<line x1="190.00" y1="199.90" x2="238.10" y2="199.90" stroke="#fff" stroke-width="1.05" />
<line x1="190.00" y1="151.03" x2="238.10" y2="151.03" stroke="#fff" stroke-width="1.05" />
<line x1="190.00" y1="102.16" x2="238.10" y2="102.16" stroke="#fff" stroke-width="1.05" />
<line x1="190.00" y1="53.29" x2="238.10" y2="53.29" stroke="#fff" stroke-width="1.05" />
<line x1="203.12" y1="22.30" x2="203.12" y2="206.70" stroke="#fff" stroke-width="1.05" />
<line x1="224.98" y1="22.30" x2="224.98" y2="206.70" stroke="#fff" stroke-width="1.05" />
<line x1="203.50" y1="53.30" x2="203.50" y2="124.40" stroke="#1a1a1a" stroke-width="1.05" />
<line x1="203.50" y1="181.00" x2="203.50" y2="197.70" stroke="#1a1a1a" stroke-width="1.05" />
<rect x="194.92" y="124.40" width="16.40" height="56.60" fill="#66CDAA" stroke="#1a1a1a" stroke-width="1.1"/>
<line x1="194.92" y1="170.50" x2="211.32" y2="170.50" stroke="#1a1a1a" stroke-width="2.2" />
<line x1="224.50" y1="162.40" x2="224.50" y2="175.70" stroke="#1a1a1a" stroke-width="1.05" />
<line x1="224.50" y1="190.90" x2="224.50" y2="199.50" stroke="#1a1a1a" stroke-width="1.05" />
<rect x="216.78" y="175.70" width="16.40" height="15.20" fill="#FFB90F" stroke="#1a1a1a" stroke-width="1.1"/>
<line x1="216.78" y1="183.20" x2="233.18" y2="183.20" stroke="#1a1a1a" stroke-width="2.2" />
<circle cx="203.30" cy="53.30" r="2.2" fill="rgba(0,0,0,0.22)" stroke="rgba(0,0,0,0.32)" stroke-width="0.75"/>
<circle cx="202.50" cy="80.50" r="2.2" fill="rgba(0,0,0,0.22)" stroke="rgba(0,0,0,0.32)" stroke-width="0.75"/>
<circle cx="203.30" cy="88.80" r="2.2" fill="rgba(0,0,0,0.22)" stroke="rgba(0,0,0,0.32)" stroke-width="0.75"/>
<circle cx="201.10" cy="109.70" r="2.2" fill="rgba(0,0,0,0.22)" stroke="rgba(0,0,0,0.32)" stroke-width="0.75"/>
<circle cx="206.10" cy="116.10" r="2.2" fill="rgba(0,0,0,0.22)" stroke="rgba(0,0,0,0.32)" stroke-width="0.75"/>
<circle cx="202.40" cy="120.50" r="2.2" fill="rgba(0,0,0,0.22)" stroke="rgba(0,0,0,0.32)" stroke-width="0.75"/>
<circle cx="204.80" cy="122.90" r="2.2" fill="rgba(0,0,0,0.22)" stroke="rgba(0,0,0,0.32)" stroke-width="0.75"/>
<circle cx="200.50" cy="125.80" r="2.2" fill="rgba(0,0,0,0.22)" stroke="rgba(0,0,0,0.32)" stroke-width="0.75"/>
<circle cx="204.80" cy="134.30" r="2.2" fill="rgba(0,0,0,0.22)" stroke="rgba(0,0,0,0.32)" stroke-width="0.75"/>
<circle cx="202.10" cy="144.40" r="2.2" fill="rgba(0,0,0,0.22)" stroke="rgba(0,0,0,0.32)" stroke-width="0.75"/>
<circle cx="203.30" cy="151.40" r="2.2" fill="rgba(0,0,0,0.22)" stroke="rgba(0,0,0,0.32)" stroke-width="0.75"/>
<circle cx="197.40" cy="166.10" r="2.2" fill="rgba(0,0,0,0.22)" stroke="rgba(0,0,0,0.32)" stroke-width="0.75"/>
<circle cx="208.60" cy="166.70" r="2.2" fill="rgba(0,0,0,0.22)" stroke="rgba(0,0,0,0.32)" stroke-width="0.75"/>
<circle cx="198.60" cy="175.40" r="2.2" fill="rgba(0,0,0,0.22)" stroke="rgba(0,0,0,0.32)" stroke-width="0.75"/>
<circle cx="207.30" cy="174.80" r="2.2" fill="rgba(0,0,0,0.22)" stroke="rgba(0,0,0,0.32)" stroke-width="0.75"/>
<circle cx="202.50" cy="176.00" r="2.2" fill="rgba(0,0,0,0.22)" stroke="rgba(0,0,0,0.32)" stroke-width="0.75"/>
<circle cx="194.90" cy="181.00" r="2.2" fill="rgba(0,0,0,0.22)" stroke="rgba(0,0,0,0.32)" stroke-width="0.75"/>
<circle cx="209.80" cy="182.90" r="2.2" fill="rgba(0,0,0,0.22)" stroke="rgba(0,0,0,0.32)" stroke-width="0.75"/>
<circle cx="201.10" cy="188.40" r="2.2" fill="rgba(0,0,0,0.22)" stroke="rgba(0,0,0,0.32)" stroke-width="0.75"/>
<circle cx="205.50" cy="190.30" r="2.2" fill="rgba(0,0,0,0.22)" stroke="rgba(0,0,0,0.32)" stroke-width="0.75"/>
<circle cx="198.00" cy="193.40" r="2.2" fill="rgba(0,0,0,0.22)" stroke="rgba(0,0,0,0.32)" stroke-width="0.75"/>
<circle cx="206.70" cy="194.00" r="2.2" fill="rgba(0,0,0,0.22)" stroke="rgba(0,0,0,0.32)" stroke-width="0.75"/>
<circle cx="203.30" cy="198.60" r="2.2" fill="rgba(0,0,0,0.22)" stroke="rgba(0,0,0,0.32)" stroke-width="0.75"/>
<circle cx="202.00" cy="191.00" r="2.2" fill="rgba(0,0,0,0.22)" stroke="rgba(0,0,0,0.32)" stroke-width="0.75"/>
<circle cx="204.50" cy="192.00" r="2.2" fill="rgba(0,0,0,0.22)" stroke="rgba(0,0,0,0.32)" stroke-width="0.75"/>
<circle cx="224.80" cy="30.30" r="2.2" fill="rgba(0,0,0,0.22)" stroke="rgba(0,0,0,0.32)" stroke-width="0.75"/>
<circle cx="225.10" cy="58.20" r="2.2" fill="rgba(0,0,0,0.22)" stroke="rgba(0,0,0,0.32)" stroke-width="0.75"/>
<circle cx="224.00" cy="85.00" r="2.2" fill="rgba(0,0,0,0.22)" stroke="rgba(0,0,0,0.32)" stroke-width="0.75"/>
<circle cx="225.50" cy="86.50" r="2.2" fill="rgba(0,0,0,0.22)" stroke="rgba(0,0,0,0.32)" stroke-width="0.75"/>
<circle cx="224.60" cy="109.50" r="2.2" fill="rgba(0,0,0,0.22)" stroke="rgba(0,0,0,0.32)" stroke-width="0.75"/>
<circle cx="225.30" cy="134.50" r="2.2" fill="rgba(0,0,0,0.22)" stroke="rgba(0,0,0,0.32)" stroke-width="0.75"/>
<circle cx="224.00" cy="136.00" r="2.2" fill="rgba(0,0,0,0.22)" stroke="rgba(0,0,0,0.32)" stroke-width="0.75"/>
<circle cx="225.70" cy="141.90" r="2.2" fill="rgba(0,0,0,0.22)" stroke="rgba(0,0,0,0.32)" stroke-width="0.75"/>
<circle cx="224.70" cy="162.40" r="2.2" fill="rgba(0,0,0,0.22)" stroke="rgba(0,0,0,0.32)" stroke-width="0.75"/>
<circle cx="224.70" cy="164.30" r="2.2" fill="rgba(0,0,0,0.22)" stroke="rgba(0,0,0,0.32)" stroke-width="0.75"/>
<circle cx="222.20" cy="172.30" r="2.2" fill="rgba(0,0,0,0.22)" stroke="rgba(0,0,0,0.32)" stroke-width="0.75"/>
<circle cx="229.00" cy="173.60" r="2.2" fill="rgba(0,0,0,0.22)" stroke="rgba(0,0,0,0.32)" stroke-width="0.75"/>
<circle cx="231.71" cy="176.05" r="2.2" fill="rgba(0,0,0,0.22)" stroke="rgba(0,0,0,0.32)" stroke-width="0.75"/>
<circle cx="223.41" cy="176.55" r="2.2" fill="rgba(0,0,0,0.22)" stroke="rgba(0,0,0,0.32)" stroke-width="0.75"/>
<circle cx="218.18" cy="176.74" r="2.2" fill="rgba(0,0,0,0.22)" stroke="rgba(0,0,0,0.32)" stroke-width="0.75"/>
<circle cx="228.17" cy="177.07" r="2.2" fill="rgba(0,0,0,0.22)" stroke="rgba(0,0,0,0.32)" stroke-width="0.75"/>
<circle cx="229.68" cy="177.52" r="2.2" fill="rgba(0,0,0,0.22)" stroke="rgba(0,0,0,0.32)" stroke-width="0.75"/>
<circle cx="216.97" cy="177.89" r="2.2" fill="rgba(0,0,0,0.22)" stroke="rgba(0,0,0,0.32)" stroke-width="0.75"/>
<circle cx="230.10" cy="178.15" r="2.2" fill="rgba(0,0,0,0.22)" stroke="rgba(0,0,0,0.32)" stroke-width="0.75"/>
<circle cx="225.73" cy="178.56" r="2.2" fill="rgba(0,0,0,0.22)" stroke="rgba(0,0,0,0.32)" stroke-width="0.75"/>
<circle cx="218.39" cy="178.79" r="2.2" fill="rgba(0,0,0,0.22)" stroke="rgba(0,0,0,0.32)" stroke-width="0.75"/>
<circle cx="228.92" cy="179.12" r="2.2" fill="rgba(0,0,0,0.22)" stroke="rgba(0,0,0,0.32)" stroke-width="0.75"/>
<circle cx="224.46" cy="179.53" r="2.2" fill="rgba(0,0,0,0.22)" stroke="rgba(0,0,0,0.32)" stroke-width="0.75"/>
<circle cx="218.11" cy="179.99" r="2.2" fill="rgba(0,0,0,0.22)" stroke="rgba(0,0,0,0.32)" stroke-width="0.75"/>
<circle cx="226.20" cy="180.26" r="2.2" fill="rgba(0,0,0,0.22)" stroke="rgba(0,0,0,0.32)" stroke-width="0.75"/>
<circle cx="217.53" cy="180.56" r="2.2" fill="rgba(0,0,0,0.22)" stroke="rgba(0,0,0,0.32)" stroke-width="0.75"/>
<circle cx="227.38" cy="180.88" r="2.2" fill="rgba(0,0,0,0.22)" stroke="rgba(0,0,0,0.32)" stroke-width="0.75"/>
<circle cx="229.84" cy="181.35" r="2.2" fill="rgba(0,0,0,0.22)" stroke="rgba(0,0,0,0.32)" stroke-width="0.75"/>
<circle cx="222.50" cy="181.54" r="2.2" fill="rgba(0,0,0,0.22)" stroke="rgba(0,0,0,0.32)" stroke-width="0.75"/>
<circle cx="226.50" cy="182.08" r="2.2" fill="rgba(0,0,0,0.22)" stroke="rgba(0,0,0,0.32)" stroke-width="0.75"/>
<circle cx="225.60" cy="182.39" r="2.2" fill="rgba(0,0,0,0.22)" stroke="rgba(0,0,0,0.32)" stroke-width="0.75"/>
<circle cx="225.93" cy="182.65" r="2.2" fill="rgba(0,0,0,0.22)" stroke="rgba(0,0,0,0.32)" stroke-width="0.75"/>
<circle cx="230.57" cy="182.96" r="2.2" fill="rgba(0,0,0,0.22)" stroke="rgba(0,0,0,0.32)" stroke-width="0.75"/>
<circle cx="232.07" cy="183.38" r="2.2" fill="rgba(0,0,0,0.22)" stroke="rgba(0,0,0,0.32)" stroke-width="0.75"/>
<circle cx="223.55" cy="183.63" r="2.2" fill="rgba(0,0,0,0.22)" stroke="rgba(0,0,0,0.32)" stroke-width="0.75"/>
<circle cx="230.30" cy="184.07" r="2.2" fill="rgba(0,0,0,0.22)" stroke="rgba(0,0,0,0.32)" stroke-width="0.75"/>
<circle cx="219.57" cy="184.33" r="2.2" fill="rgba(0,0,0,0.22)" stroke="rgba(0,0,0,0.32)" stroke-width="0.75"/>
<circle cx="225.98" cy="184.57" r="2.2" fill="rgba(0,0,0,0.22)" stroke="rgba(0,0,0,0.32)" stroke-width="0.75"/>
<circle cx="229.64" cy="184.92" r="2.2" fill="rgba(0,0,0,0.22)" stroke="rgba(0,0,0,0.32)" stroke-width="0.75"/>
<circle cx="230.29" cy="185.31" r="2.2" fill="rgba(0,0,0,0.22)" stroke="rgba(0,0,0,0.32)" stroke-width="0.75"/>
<circle cx="219.02" cy="185.60" r="2.2" fill="rgba(0,0,0,0.22)" stroke="rgba(0,0,0,0.32)" stroke-width="0.75"/>
<circle cx="226.18" cy="186.16" r="2.2" fill="rgba(0,0,0,0.22)" stroke="rgba(0,0,0,0.32)" stroke-width="0.75"/>
<circle cx="229.22" cy="186.34" r="2.2" fill="rgba(0,0,0,0.22)" stroke="rgba(0,0,0,0.32)" stroke-width="0.75"/>
<circle cx="226.58" cy="186.68" r="2.2" fill="rgba(0,0,0,0.22)" stroke="rgba(0,0,0,0.32)" stroke-width="0.75"/>
<circle cx="220.25" cy="186.99" r="2.2" fill="rgba(0,0,0,0.22)" stroke="rgba(0,0,0,0.32)" stroke-width="0.75"/>
<circle cx="222.39" cy="187.36" r="2.2" fill="rgba(0,0,0,0.22)" stroke="rgba(0,0,0,0.32)" stroke-width="0.75"/>
<circle cx="225.65" cy="187.89" r="2.2" fill="rgba(0,0,0,0.22)" stroke="rgba(0,0,0,0.32)" stroke-width="0.75"/>
<circle cx="226.23" cy="188.03" r="2.2" fill="rgba(0,0,0,0.22)" stroke="rgba(0,0,0,0.32)" stroke-width="0.75"/>
<circle cx="226.37" cy="188.39" r="2.2" fill="rgba(0,0,0,0.22)" stroke="rgba(0,0,0,0.32)" stroke-width="0.75"/>
<circle cx="220.66" cy="188.65" r="2.2" fill="rgba(0,0,0,0.22)" stroke="rgba(0,0,0,0.32)" stroke-width="0.75"/>
<circle cx="232.49" cy="189.12" r="2.2" fill="rgba(0,0,0,0.22)" stroke="rgba(0,0,0,0.32)" stroke-width="0.75"/>
<circle cx="226.41" cy="189.38" r="2.2" fill="rgba(0,0,0,0.22)" stroke="rgba(0,0,0,0.32)" stroke-width="0.75"/>
<circle cx="232.45" cy="189.67" r="2.2" fill="rgba(0,0,0,0.22)" stroke="rgba(0,0,0,0.32)" stroke-width="0.75"/>
<circle cx="228.50" cy="190.04" r="2.2" fill="rgba(0,0,0,0.22)" stroke="rgba(0,0,0,0.32)" stroke-width="0.75"/>
<circle cx="232.36" cy="190.36" r="2.2" fill="rgba(0,0,0,0.22)" stroke="rgba(0,0,0,0.32)" stroke-width="0.75"/>
<circle cx="229.61" cy="190.78" r="2.2" fill="rgba(0,0,0,0.22)" stroke="rgba(0,0,0,0.32)" stroke-width="0.75"/>
<circle cx="225.17" cy="191.32" r="2.2" fill="rgba(0,0,0,0.22)" stroke="rgba(0,0,0,0.32)" stroke-width="0.75"/>
<circle cx="221.11" cy="191.97" r="2.2" fill="rgba(0,0,0,0.22)" stroke="rgba(0,0,0,0.32)" stroke-width="0.75"/>
<circle cx="218.54" cy="192.53" r="2.2" fill="rgba(0,0,0,0.22)" stroke="rgba(0,0,0,0.32)" stroke-width="0.75"/>
<circle cx="219.58" cy="192.95" r="2.2" fill="rgba(0,0,0,0.22)" stroke="rgba(0,0,0,0.32)" stroke-width="0.75"/>
<circle cx="226.64" cy="193.79" r="2.2" fill="rgba(0,0,0,0.22)" stroke="rgba(0,0,0,0.32)" stroke-width="0.75"/>
<circle cx="228.43" cy="194.25" r="2.2" fill="rgba(0,0,0,0.22)" stroke="rgba(0,0,0,0.32)" stroke-width="0.75"/>
<circle cx="225.39" cy="194.51" r="2.2" fill="rgba(0,0,0,0.22)" stroke="rgba(0,0,0,0.32)" stroke-width="0.75"/>
<circle cx="231.95" cy="195.46" r="2.2" fill="rgba(0,0,0,0.22)" stroke="rgba(0,0,0,0.32)" stroke-width="0.75"/>
<circle cx="228.80" cy="195.96" r="2.2" fill="rgba(0,0,0,0.22)" stroke="rgba(0,0,0,0.32)" stroke-width="0.75"/>
<circle cx="218.07" cy="196.26" r="2.2" fill="rgba(0,0,0,0.22)" stroke="rgba(0,0,0,0.32)" stroke-width="0.75"/>
<circle cx="216.94" cy="197.00" r="2.2" fill="rgba(0,0,0,0.22)" stroke="rgba(0,0,0,0.32)" stroke-width="0.75"/>
<circle cx="226.69" cy="197.71" r="2.2" fill="rgba(0,0,0,0.22)" stroke="rgba(0,0,0,0.32)" stroke-width="0.75"/>
<circle cx="221.64" cy="198.18" r="2.2" fill="rgba(0,0,0,0.22)" stroke="rgba(0,0,0,0.32)" stroke-width="0.75"/>
<circle cx="228.34" cy="198.80" r="2.2" fill="rgba(0,0,0,0.22)" stroke="rgba(0,0,0,0.32)" stroke-width="0.75"/>
<circle cx="220.95" cy="197.20" r="2.2" fill="rgba(0,0,0,0.22)" stroke="rgba(0,0,0,0.32)" stroke-width="0.75"/>
<circle cx="228.53" cy="197.84" r="2.2" fill="rgba(0,0,0,0.22)" stroke="rgba(0,0,0,0.32)" stroke-width="0.75"/>
<circle cx="221.27" cy="198.53" r="2.2" fill="rgba(0,0,0,0.22)" stroke="rgba(0,0,0,0.32)" stroke-width="0.75"/>
<circle cx="224.55" cy="199.48" r="2.2" fill="rgba(0,0,0,0.22)" stroke="rgba(0,0,0,0.32)" stroke-width="0.75"/>
<circle cx="221.92" cy="200.22" r="2.2" fill="rgba(0,0,0,0.22)" stroke="rgba(0,0,0,0.32)" stroke-width="0.75"/>
</g>
<text transform="translate(218.05,39.60) scale(1,1.1)" font-size="11.6" text-anchor="middle" fill="#000" font-weight="normal" >ns</text>
<line x1="187.30" y1="199.90" x2="190.00" y2="199.90" stroke="#333" stroke-width="1.0" />
<text transform="translate(184.70,204.20) scale(1,1.15)" font-size="9.3" text-anchor="end" fill="#4D4D4D" font-weight="normal" >0</text>
<line x1="187.30" y1="151.03" x2="190.00" y2="151.03" stroke="#333" stroke-width="1.0" />
<text transform="translate(184.70,155.33) scale(1,1.15)" font-size="9.3" text-anchor="end" fill="#4D4D4D" font-weight="normal" >1000</text>
<line x1="187.30" y1="102.16" x2="190.00" y2="102.16" stroke="#333" stroke-width="1.0" />
<text transform="translate(184.70,106.46) scale(1,1.15)" font-size="9.3" text-anchor="end" fill="#4D4D4D" font-weight="normal" >2000</text>
<line x1="187.30" y1="53.29" x2="190.00" y2="53.29" stroke="#333" stroke-width="1.0" />
<text transform="translate(184.70,57.59) scale(1,1.15)" font-size="9.3" text-anchor="end" fill="#4D4D4D" font-weight="normal" >3000</text>
<line x1="203.12" y1="206.70" x2="203.12" y2="210.40" stroke="#333" stroke-width="1.0" />
<text transform="translate(203.12,220.80) scale(1,1.15)" font-size="9.3" text-anchor="middle" fill="#4D4D4D" font-weight="normal" >H</text>
<line x1="224.98" y1="206.70" x2="224.98" y2="210.40" stroke="#333" stroke-width="1.0" />
<text transform="translate(224.98,220.80) scale(1,1.15)" font-size="9.3" text-anchor="middle" fill="#4D4D4D" font-weight="normal" >LS</text>
<rect x="263.20" y="2.00" width="48.10" height="20.30" fill="#D9D9D9" />
<text transform="translate(287.25,16.00) scale(1,1.1)" font-size="9.4" text-anchor="middle" fill="#1A1A1A" font-weight="normal" >IL7</text>
<rect x="263.20" y="22.30" width="48.10" height="184.40" fill="#EBEBEB" />
<g clip-path="url(#cAIL7)">
<line x1="263.20" y1="179.28" x2="311.30" y2="179.28" stroke="#fff" stroke-width="0.55" />
<line x1="263.20" y1="130.44" x2="311.30" y2="130.44" stroke="#fff" stroke-width="0.55" />
<line x1="263.20" y1="81.60" x2="311.30" y2="81.60" stroke="#fff" stroke-width="0.55" />
<line x1="263.20" y1="32.76" x2="311.30" y2="32.76" stroke="#fff" stroke-width="0.55" />
<line x1="263.20" y1="203.70" x2="311.30" y2="203.70" stroke="#fff" stroke-width="1.05" />
<line x1="263.20" y1="154.86" x2="311.30" y2="154.86" stroke="#fff" stroke-width="1.05" />
<line x1="263.20" y1="106.02" x2="311.30" y2="106.02" stroke="#fff" stroke-width="1.05" />
<line x1="263.20" y1="57.18" x2="311.30" y2="57.18" stroke="#fff" stroke-width="1.05" />
<line x1="276.32" y1="22.30" x2="276.32" y2="206.70" stroke="#fff" stroke-width="1.05" />
<line x1="298.18" y1="22.30" x2="298.18" y2="206.70" stroke="#fff" stroke-width="1.05" />
<line x1="276.50" y1="159.00" x2="276.50" y2="175.50" stroke="#1a1a1a" stroke-width="1.05" />
<line x1="276.50" y1="188.50" x2="276.50" y2="198.40" stroke="#1a1a1a" stroke-width="1.05" />
<rect x="268.12" y="175.50" width="16.40" height="13.00" fill="#66CDAA" stroke="#1a1a1a" stroke-width="1.1"/>
<line x1="268.12" y1="179.80" x2="284.52" y2="179.80" stroke="#1a1a1a" stroke-width="2.2" />
<line x1="298.50" y1="141.60" x2="298.50" y2="160.20" stroke="#1a1a1a" stroke-width="1.05" />
<line x1="298.50" y1="181.30" x2="298.50" y2="193.40" stroke="#1a1a1a" stroke-width="1.05" />
<rect x="289.98" y="160.20" width="16.40" height="21.10" fill="#FFB90F" stroke="#1a1a1a" stroke-width="1.1"/>
<line x1="289.98" y1="171.10" x2="306.38" y2="171.10" stroke="#1a1a1a" stroke-width="2.2" />
<circle cx="277.60" cy="154.40" r="2.2" fill="rgba(0,0,0,0.22)" stroke="rgba(0,0,0,0.32)" stroke-width="0.75"/>
<circle cx="275.60" cy="158.30" r="2.2" fill="rgba(0,0,0,0.22)" stroke="rgba(0,0,0,0.32)" stroke-width="0.75"/>
<circle cx="277.20" cy="160.20" r="2.2" fill="rgba(0,0,0,0.22)" stroke="rgba(0,0,0,0.32)" stroke-width="0.75"/>
<circle cx="274.10" cy="168.90" r="2.2" fill="rgba(0,0,0,0.22)" stroke="rgba(0,0,0,0.32)" stroke-width="0.75"/>
<circle cx="279.10" cy="169.30" r="2.2" fill="rgba(0,0,0,0.22)" stroke="rgba(0,0,0,0.32)" stroke-width="0.75"/>
<circle cx="271.60" cy="169.30" r="2.2" fill="rgba(0,0,0,0.22)" stroke="rgba(0,0,0,0.32)" stroke-width="0.75"/>
<circle cx="279.10" cy="170.50" r="2.2" fill="rgba(0,0,0,0.22)" stroke="rgba(0,0,0,0.32)" stroke-width="0.75"/>
<circle cx="267.30" cy="179.20" r="2.2" fill="rgba(0,0,0,0.22)" stroke="rgba(0,0,0,0.32)" stroke-width="0.75"/>
<circle cx="271.60" cy="191.00" r="2.2" fill="rgba(0,0,0,0.22)" stroke="rgba(0,0,0,0.32)" stroke-width="0.75"/>
<circle cx="279.10" cy="192.20" r="2.2" fill="rgba(0,0,0,0.22)" stroke="rgba(0,0,0,0.32)" stroke-width="0.75"/>
<circle cx="274.50" cy="194.70" r="2.2" fill="rgba(0,0,0,0.22)" stroke="rgba(0,0,0,0.32)" stroke-width="0.75"/>
<circle cx="276.60" cy="199.00" r="2.2" fill="rgba(0,0,0,0.22)" stroke="rgba(0,0,0,0.32)" stroke-width="0.75"/>
<circle cx="269.55" cy="175.49" r="2.2" fill="rgba(0,0,0,0.22)" stroke="rgba(0,0,0,0.32)" stroke-width="0.75"/>
<circle cx="274.63" cy="176.74" r="2.2" fill="rgba(0,0,0,0.22)" stroke="rgba(0,0,0,0.32)" stroke-width="0.75"/>
<circle cx="280.30" cy="177.50" r="2.2" fill="rgba(0,0,0,0.22)" stroke="rgba(0,0,0,0.32)" stroke-width="0.75"/>
<circle cx="282.38" cy="178.63" r="2.2" fill="rgba(0,0,0,0.22)" stroke="rgba(0,0,0,0.32)" stroke-width="0.75"/>
<circle cx="279.64" cy="179.69" r="2.2" fill="rgba(0,0,0,0.22)" stroke="rgba(0,0,0,0.32)" stroke-width="0.75"/>
<circle cx="274.48" cy="180.16" r="2.2" fill="rgba(0,0,0,0.22)" stroke="rgba(0,0,0,0.32)" stroke-width="0.75"/>
<circle cx="282.29" cy="181.68" r="2.2" fill="rgba(0,0,0,0.22)" stroke="rgba(0,0,0,0.32)" stroke-width="0.75"/>
<circle cx="273.72" cy="182.69" r="2.2" fill="rgba(0,0,0,0.22)" stroke="rgba(0,0,0,0.32)" stroke-width="0.75"/>
<circle cx="274.07" cy="183.50" r="2.2" fill="rgba(0,0,0,0.22)" stroke="rgba(0,0,0,0.32)" stroke-width="0.75"/>
<circle cx="272.94" cy="184.48" r="2.2" fill="rgba(0,0,0,0.22)" stroke="rgba(0,0,0,0.32)" stroke-width="0.75"/>
<circle cx="280.66" cy="185.71" r="2.2" fill="rgba(0,0,0,0.22)" stroke="rgba(0,0,0,0.32)" stroke-width="0.75"/>
<circle cx="281.76" cy="186.61" r="2.2" fill="rgba(0,0,0,0.22)" stroke="rgba(0,0,0,0.32)" stroke-width="0.75"/>
<circle cx="278.88" cy="187.22" r="2.2" fill="rgba(0,0,0,0.22)" stroke="rgba(0,0,0,0.32)" stroke-width="0.75"/>
<circle cx="274.24" cy="188.69" r="2.2" fill="rgba(0,0,0,0.22)" stroke="rgba(0,0,0,0.32)" stroke-width="0.75"/>
<circle cx="270.65" cy="186.62" r="2.2" fill="rgba(0,0,0,0.22)" stroke="rgba(0,0,0,0.32)" stroke-width="0.75"/>
<circle cx="281.14" cy="187.29" r="2.2" fill="rgba(0,0,0,0.22)" stroke="rgba(0,0,0,0.32)" stroke-width="0.75"/>
<circle cx="281.64" cy="188.97" r="2.2" fill="rgba(0,0,0,0.22)" stroke="rgba(0,0,0,0.32)" stroke-width="0.75"/>
<circle cx="272.24" cy="190.10" r="2.2" fill="rgba(0,0,0,0.22)" stroke="rgba(0,0,0,0.32)" stroke-width="0.75"/>
<circle cx="281.74" cy="191.08" r="2.2" fill="rgba(0,0,0,0.22)" stroke="rgba(0,0,0,0.32)" stroke-width="0.75"/>
<circle cx="273.00" cy="192.16" r="2.2" fill="rgba(0,0,0,0.22)" stroke="rgba(0,0,0,0.32)" stroke-width="0.75"/>
<circle cx="281.39" cy="193.67" r="2.2" fill="rgba(0,0,0,0.22)" stroke="rgba(0,0,0,0.32)" stroke-width="0.75"/>
<circle cx="273.65" cy="194.87" r="2.2" fill="rgba(0,0,0,0.22)" stroke="rgba(0,0,0,0.32)" stroke-width="0.75"/>
<circle cx="298.30" cy="29.90" r="2.2" fill="rgba(0,0,0,0.22)" stroke="rgba(0,0,0,0.32)" stroke-width="0.75"/>
<circle cx="298.30" cy="114.70" r="2.2" fill="rgba(0,0,0,0.22)" stroke="rgba(0,0,0,0.32)" stroke-width="0.75"/>
<circle cx="296.80" cy="121.50" r="2.2" fill="rgba(0,0,0,0.22)" stroke="rgba(0,0,0,0.32)" stroke-width="0.75"/>
<circle cx="299.80" cy="124.00" r="2.2" fill="rgba(0,0,0,0.22)" stroke="rgba(0,0,0,0.32)" stroke-width="0.75"/>
<circle cx="298.30" cy="140.40" r="2.2" fill="rgba(0,0,0,0.22)" stroke="rgba(0,0,0,0.32)" stroke-width="0.75"/>
<circle cx="298.90" cy="148.40" r="2.2" fill="rgba(0,0,0,0.22)" stroke="rgba(0,0,0,0.32)" stroke-width="0.75"/>
<circle cx="296.40" cy="152.10" r="2.2" fill="rgba(0,0,0,0.22)" stroke="rgba(0,0,0,0.32)" stroke-width="0.75"/>
<circle cx="300.80" cy="154.40" r="2.2" fill="rgba(0,0,0,0.22)" stroke="rgba(0,0,0,0.32)" stroke-width="0.75"/>
<circle cx="292.70" cy="157.70" r="2.2" fill="rgba(0,0,0,0.22)" stroke="rgba(0,0,0,0.32)" stroke-width="0.75"/>
<circle cx="303.20" cy="159.00" r="2.2" fill="rgba(0,0,0,0.22)" stroke="rgba(0,0,0,0.32)" stroke-width="0.75"/>
<circle cx="295.20" cy="157.10" r="2.2" fill="rgba(0,0,0,0.22)" stroke="rgba(0,0,0,0.32)" stroke-width="0.75"/>
<circle cx="297.68" cy="160.07" r="2.2" fill="rgba(0,0,0,0.22)" stroke="rgba(0,0,0,0.32)" stroke-width="0.75"/>
<circle cx="299.59" cy="161.15" r="2.2" fill="rgba(0,0,0,0.22)" stroke="rgba(0,0,0,0.32)" stroke-width="0.75"/>
<circle cx="298.37" cy="161.61" r="2.2" fill="rgba(0,0,0,0.22)" stroke="rgba(0,0,0,0.32)" stroke-width="0.75"/>
<circle cx="302.79" cy="162.14" r="2.2" fill="rgba(0,0,0,0.22)" stroke="rgba(0,0,0,0.32)" stroke-width="0.75"/>
<circle cx="291.60" cy="162.80" r="2.2" fill="rgba(0,0,0,0.22)" stroke="rgba(0,0,0,0.32)" stroke-width="0.75"/>
<circle cx="300.01" cy="163.42" r="2.2" fill="rgba(0,0,0,0.22)" stroke="rgba(0,0,0,0.32)" stroke-width="0.75"/>
<circle cx="303.41" cy="164.50" r="2.2" fill="rgba(0,0,0,0.22)" stroke="rgba(0,0,0,0.32)" stroke-width="0.75"/>
<circle cx="303.32" cy="165.09" r="2.2" fill="rgba(0,0,0,0.22)" stroke="rgba(0,0,0,0.32)" stroke-width="0.75"/>
<circle cx="300.51" cy="165.78" r="2.2" fill="rgba(0,0,0,0.22)" stroke="rgba(0,0,0,0.32)" stroke-width="0.75"/>
<circle cx="297.70" cy="166.09" r="2.2" fill="rgba(0,0,0,0.22)" stroke="rgba(0,0,0,0.32)" stroke-width="0.75"/>
<circle cx="293.87" cy="166.88" r="2.2" fill="rgba(0,0,0,0.22)" stroke="rgba(0,0,0,0.32)" stroke-width="0.75"/>
<circle cx="295.15" cy="167.29" r="2.2" fill="rgba(0,0,0,0.22)" stroke="rgba(0,0,0,0.32)" stroke-width="0.75"/>
<circle cx="301.57" cy="168.18" r="2.2" fill="rgba(0,0,0,0.22)" stroke="rgba(0,0,0,0.32)" stroke-width="0.75"/>
<circle cx="296.47" cy="168.67" r="2.2" fill="rgba(0,0,0,0.22)" stroke="rgba(0,0,0,0.32)" stroke-width="0.75"/>
<circle cx="298.18" cy="169.42" r="2.2" fill="rgba(0,0,0,0.22)" stroke="rgba(0,0,0,0.32)" stroke-width="0.75"/>
<circle cx="291.11" cy="169.91" r="2.2" fill="rgba(0,0,0,0.22)" stroke="rgba(0,0,0,0.32)" stroke-width="0.75"/>
<circle cx="290.92" cy="171.01" r="2.2" fill="rgba(0,0,0,0.22)" stroke="rgba(0,0,0,0.32)" stroke-width="0.75"/>
<circle cx="294.09" cy="171.71" r="2.2" fill="rgba(0,0,0,0.22)" stroke="rgba(0,0,0,0.32)" stroke-width="0.75"/>
<circle cx="297.01" cy="172.35" r="2.2" fill="rgba(0,0,0,0.22)" stroke="rgba(0,0,0,0.32)" stroke-width="0.75"/>
<circle cx="292.82" cy="172.73" r="2.2" fill="rgba(0,0,0,0.22)" stroke="rgba(0,0,0,0.32)" stroke-width="0.75"/>
<circle cx="305.04" cy="173.71" r="2.2" fill="rgba(0,0,0,0.22)" stroke="rgba(0,0,0,0.32)" stroke-width="0.75"/>
<circle cx="296.89" cy="174.04" r="2.2" fill="rgba(0,0,0,0.22)" stroke="rgba(0,0,0,0.32)" stroke-width="0.75"/>
<circle cx="300.46" cy="174.65" r="2.2" fill="rgba(0,0,0,0.22)" stroke="rgba(0,0,0,0.32)" stroke-width="0.75"/>
<circle cx="291.53" cy="175.21" r="2.2" fill="rgba(0,0,0,0.22)" stroke="rgba(0,0,0,0.32)" stroke-width="0.75"/>
<circle cx="302.31" cy="175.97" r="2.2" fill="rgba(0,0,0,0.22)" stroke="rgba(0,0,0,0.32)" stroke-width="0.75"/>
<circle cx="301.54" cy="176.60" r="2.2" fill="rgba(0,0,0,0.22)" stroke="rgba(0,0,0,0.32)" stroke-width="0.75"/>
<circle cx="294.67" cy="177.40" r="2.2" fill="rgba(0,0,0,0.22)" stroke="rgba(0,0,0,0.32)" stroke-width="0.75"/>
<circle cx="300.43" cy="177.98" r="2.2" fill="rgba(0,0,0,0.22)" stroke="rgba(0,0,0,0.32)" stroke-width="0.75"/>
<circle cx="292.54" cy="178.90" r="2.2" fill="rgba(0,0,0,0.22)" stroke="rgba(0,0,0,0.32)" stroke-width="0.75"/>
<circle cx="303.33" cy="179.43" r="2.2" fill="rgba(0,0,0,0.22)" stroke="rgba(0,0,0,0.32)" stroke-width="0.75"/>
<circle cx="292.14" cy="180.25" r="2.2" fill="rgba(0,0,0,0.22)" stroke="rgba(0,0,0,0.32)" stroke-width="0.75"/>
<circle cx="293.91" cy="180.79" r="2.2" fill="rgba(0,0,0,0.22)" stroke="rgba(0,0,0,0.32)" stroke-width="0.75"/>
<circle cx="297.51" cy="181.29" r="2.2" fill="rgba(0,0,0,0.22)" stroke="rgba(0,0,0,0.32)" stroke-width="0.75"/>
<circle cx="294.50" cy="181.72" r="2.2" fill="rgba(0,0,0,0.22)" stroke="rgba(0,0,0,0.32)" stroke-width="0.75"/>
<circle cx="294.86" cy="181.99" r="2.2" fill="rgba(0,0,0,0.22)" stroke="rgba(0,0,0,0.32)" stroke-width="0.75"/>
<circle cx="306.00" cy="182.63" r="2.2" fill="rgba(0,0,0,0.22)" stroke="rgba(0,0,0,0.32)" stroke-width="0.75"/>
<circle cx="303.35" cy="182.89" r="2.2" fill="rgba(0,0,0,0.22)" stroke="rgba(0,0,0,0.32)" stroke-width="0.75"/>
<circle cx="303.56" cy="183.26" r="2.2" fill="rgba(0,0,0,0.22)" stroke="rgba(0,0,0,0.32)" stroke-width="0.75"/>
<circle cx="305.79" cy="183.91" r="2.2" fill="rgba(0,0,0,0.22)" stroke="rgba(0,0,0,0.32)" stroke-width="0.75"/>
<circle cx="300.33" cy="184.23" r="2.2" fill="rgba(0,0,0,0.22)" stroke="rgba(0,0,0,0.32)" stroke-width="0.75"/>
<circle cx="295.71" cy="184.62" r="2.2" fill="rgba(0,0,0,0.22)" stroke="rgba(0,0,0,0.32)" stroke-width="0.75"/>
<circle cx="301.88" cy="184.91" r="2.2" fill="rgba(0,0,0,0.22)" stroke="rgba(0,0,0,0.32)" stroke-width="0.75"/>
<circle cx="291.68" cy="185.34" r="2.2" fill="rgba(0,0,0,0.22)" stroke="rgba(0,0,0,0.32)" stroke-width="0.75"/>
<circle cx="290.59" cy="185.86" r="2.2" fill="rgba(0,0,0,0.22)" stroke="rgba(0,0,0,0.32)" stroke-width="0.75"/>
<circle cx="296.90" cy="186.43" r="2.2" fill="rgba(0,0,0,0.22)" stroke="rgba(0,0,0,0.32)" stroke-width="0.75"/>
<circle cx="293.08" cy="186.69" r="2.2" fill="rgba(0,0,0,0.22)" stroke="rgba(0,0,0,0.32)" stroke-width="0.75"/>
<circle cx="302.18" cy="187.03" r="2.2" fill="rgba(0,0,0,0.22)" stroke="rgba(0,0,0,0.32)" stroke-width="0.75"/>
<circle cx="296.08" cy="187.50" r="2.2" fill="rgba(0,0,0,0.22)" stroke="rgba(0,0,0,0.32)" stroke-width="0.75"/>
<circle cx="292.64" cy="187.89" r="2.2" fill="rgba(0,0,0,0.22)" stroke="rgba(0,0,0,0.32)" stroke-width="0.75"/>
<circle cx="296.59" cy="188.43" r="2.2" fill="rgba(0,0,0,0.22)" stroke="rgba(0,0,0,0.32)" stroke-width="0.75"/>
<circle cx="298.89" cy="188.91" r="2.2" fill="rgba(0,0,0,0.22)" stroke="rgba(0,0,0,0.32)" stroke-width="0.75"/>
<circle cx="294.56" cy="189.22" r="2.2" fill="rgba(0,0,0,0.22)" stroke="rgba(0,0,0,0.32)" stroke-width="0.75"/>
<circle cx="301.47" cy="189.63" r="2.2" fill="rgba(0,0,0,0.22)" stroke="rgba(0,0,0,0.32)" stroke-width="0.75"/>
<circle cx="294.39" cy="189.95" r="2.2" fill="rgba(0,0,0,0.22)" stroke="rgba(0,0,0,0.32)" stroke-width="0.75"/>
<circle cx="301.85" cy="190.68" r="2.2" fill="rgba(0,0,0,0.22)" stroke="rgba(0,0,0,0.32)" stroke-width="0.75"/>
<circle cx="303.80" cy="190.94" r="2.2" fill="rgba(0,0,0,0.22)" stroke="rgba(0,0,0,0.32)" stroke-width="0.75"/>
<circle cx="291.07" cy="191.49" r="2.2" fill="rgba(0,0,0,0.22)" stroke="rgba(0,0,0,0.32)" stroke-width="0.75"/>
<circle cx="301.48" cy="191.71" r="2.2" fill="rgba(0,0,0,0.22)" stroke="rgba(0,0,0,0.32)" stroke-width="0.75"/>
<circle cx="298.30" cy="194.40" r="2.2" fill="rgba(0,0,0,0.22)" stroke="rgba(0,0,0,0.32)" stroke-width="0.75"/>
<circle cx="296.00" cy="192.50" r="2.2" fill="rgba(0,0,0,0.22)" stroke="rgba(0,0,0,0.32)" stroke-width="0.75"/>
<circle cx="300.50" cy="192.80" r="2.2" fill="rgba(0,0,0,0.22)" stroke="rgba(0,0,0,0.32)" stroke-width="0.75"/>
</g>
<text transform="translate(290.15,38.60) scale(1,1.15)" font-size="10.4" text-anchor="middle" fill="#000" font-weight="normal" >**</text>
<line x1="260.50" y1="203.70" x2="263.20" y2="203.70" stroke="#333" stroke-width="1.0" />
<text transform="translate(257.90,208.00) scale(1,1.15)" font-size="9.3" text-anchor="end" fill="#4D4D4D" font-weight="normal" >0.0</text>
<line x1="260.50" y1="154.86" x2="263.20" y2="154.86" stroke="#333" stroke-width="1.0" />
<text transform="translate(257.90,159.16) scale(1,1.15)" font-size="9.3" text-anchor="end" fill="#4D4D4D" font-weight="normal" >0.2</text>
<line x1="260.50" y1="106.02" x2="263.20" y2="106.02" stroke="#333" stroke-width="1.0" />
<text transform="translate(257.90,110.32) scale(1,1.15)" font-size="9.3" text-anchor="end" fill="#4D4D4D" font-weight="normal" >0.4</text>
<line x1="260.50" y1="57.18" x2="263.20" y2="57.18" stroke="#333" stroke-width="1.0" />
<text transform="translate(257.90,61.48) scale(1,1.15)" font-size="9.3" text-anchor="end" fill="#4D4D4D" font-weight="normal" >0.6</text>
<line x1="276.32" y1="206.70" x2="276.32" y2="210.40" stroke="#333" stroke-width="1.0" />
<text transform="translate(276.32,220.80) scale(1,1.15)" font-size="9.3" text-anchor="middle" fill="#4D4D4D" font-weight="normal" >H</text>
<line x1="298.18" y1="206.70" x2="298.18" y2="210.40" stroke="#333" stroke-width="1.0" />
<text transform="translate(298.18,220.80) scale(1,1.15)" font-size="9.3" text-anchor="middle" fill="#4D4D4D" font-weight="normal" >LS</text>
<rect x="339.00" y="2.00" width="48.30" height="20.30" fill="#D9D9D9" />
<text transform="translate(363.15,16.00) scale(1,1.1)" font-size="9.4" text-anchor="middle" fill="#1A1A1A" font-weight="normal" >VEGF</text>
<rect x="339.00" y="22.30" width="48.30" height="184.40" fill="#EBEBEB" />
<g clip-path="url(#cAVEGF)">
<line x1="339.00" y1="185.71" x2="387.30" y2="185.71" stroke="#fff" stroke-width="0.55" />
<line x1="339.00" y1="145.94" x2="387.30" y2="145.94" stroke="#fff" stroke-width="0.55" />
<line x1="339.00" y1="106.16" x2="387.30" y2="106.16" stroke="#fff" stroke-width="0.55" />
<line x1="339.00" y1="66.39" x2="387.30" y2="66.39" stroke="#fff" stroke-width="0.55" />
<line x1="339.00" y1="26.61" x2="387.30" y2="26.61" stroke="#fff" stroke-width="0.55" />
<line x1="339.00" y1="205.60" x2="387.30" y2="205.60" stroke="#fff" stroke-width="1.05" />
<line x1="339.00" y1="165.82" x2="387.30" y2="165.82" stroke="#fff" stroke-width="1.05" />
<line x1="339.00" y1="126.05" x2="387.30" y2="126.05" stroke="#fff" stroke-width="1.05" />
<line x1="339.00" y1="86.27" x2="387.30" y2="86.27" stroke="#fff" stroke-width="1.05" />
<line x1="339.00" y1="46.50" x2="387.30" y2="46.50" stroke="#fff" stroke-width="1.05" />
<line x1="352.17" y1="22.30" x2="352.17" y2="206.70" stroke="#fff" stroke-width="1.05" />
<line x1="374.13" y1="22.30" x2="374.13" y2="206.70" stroke="#fff" stroke-width="1.05" />
<line x1="352.50" y1="92.70" x2="352.50" y2="146.50" stroke="#1a1a1a" stroke-width="1.05" />
<line x1="352.50" y1="182.50" x2="352.50" y2="192.10" stroke="#1a1a1a" stroke-width="1.05" />
<rect x="343.94" y="146.50" width="16.47" height="36.00" fill="#66CDAA" stroke="#1a1a1a" stroke-width="1.1"/>
<line x1="343.94" y1="170.80" x2="360.41" y2="170.80" stroke="#1a1a1a" stroke-width="2.2" />
<line x1="374.50" y1="138.40" x2="374.50" y2="163.40" stroke="#1a1a1a" stroke-width="1.05" />
<line x1="374.50" y1="185.00" x2="374.50" y2="199.00" stroke="#1a1a1a" stroke-width="1.05" />
<rect x="365.89" y="163.40" width="16.47" height="21.60" fill="#FFB90F" stroke="#1a1a1a" stroke-width="1.1"/>
<line x1="365.89" y1="176.30" x2="382.36" y2="176.30" stroke="#1a1a1a" stroke-width="2.2" />
<circle cx="352.90" cy="92.70" r="2.2" fill="rgba(0,0,0,0.22)" stroke="rgba(0,0,0,0.32)" stroke-width="0.75"/>
<circle cx="352.00" cy="109.30" r="2.2" fill="rgba(0,0,0,0.22)" stroke="rgba(0,0,0,0.32)" stroke-width="0.75"/>
<circle cx="352.60" cy="127.90" r="2.2" fill="rgba(0,0,0,0.22)" stroke="rgba(0,0,0,0.32)" stroke-width="0.75"/>
<circle cx="349.50" cy="134.10" r="2.2" fill="rgba(0,0,0,0.22)" stroke="rgba(0,0,0,0.32)" stroke-width="0.75"/>
<circle cx="355.70" cy="138.20" r="2.2" fill="rgba(0,0,0,0.22)" stroke="rgba(0,0,0,0.32)" stroke-width="0.75"/>
<circle cx="351.40" cy="141.50" r="2.2" fill="rgba(0,0,0,0.22)" stroke="rgba(0,0,0,0.32)" stroke-width="0.75"/>
<circle cx="353.80" cy="142.10" r="2.2" fill="rgba(0,0,0,0.22)" stroke="rgba(0,0,0,0.32)" stroke-width="0.75"/>
<circle cx="350.10" cy="150.20" r="2.2" fill="rgba(0,0,0,0.22)" stroke="rgba(0,0,0,0.32)" stroke-width="0.75"/>
<circle cx="354.50" cy="156.80" r="2.2" fill="rgba(0,0,0,0.22)" stroke="rgba(0,0,0,0.32)" stroke-width="0.75"/>
<circle cx="350.10" cy="159.30" r="2.2" fill="rgba(0,0,0,0.22)" stroke="rgba(0,0,0,0.32)" stroke-width="0.75"/>
<circle cx="352.60" cy="164.60" r="2.2" fill="rgba(0,0,0,0.22)" stroke="rgba(0,0,0,0.32)" stroke-width="0.75"/>
<circle cx="345.80" cy="168.00" r="2.2" fill="rgba(0,0,0,0.22)" stroke="rgba(0,0,0,0.32)" stroke-width="0.75"/>
<circle cx="348.90" cy="176.00" r="2.2" fill="rgba(0,0,0,0.22)" stroke="rgba(0,0,0,0.32)" stroke-width="0.75"/>
<circle cx="353.20" cy="179.10" r="2.2" fill="rgba(0,0,0,0.22)" stroke="rgba(0,0,0,0.32)" stroke-width="0.75"/>
<circle cx="357.60" cy="174.80" r="2.2" fill="rgba(0,0,0,0.22)" stroke="rgba(0,0,0,0.32)" stroke-width="0.75"/>
<circle cx="345.00" cy="182.50" r="2.2" fill="rgba(0,0,0,0.22)" stroke="rgba(0,0,0,0.32)" stroke-width="0.75"/>
<circle cx="359.00" cy="182.50" r="2.2" fill="rgba(0,0,0,0.22)" stroke="rgba(0,0,0,0.32)" stroke-width="0.75"/>
<circle cx="346.40" cy="187.80" r="2.2" fill="rgba(0,0,0,0.22)" stroke="rgba(0,0,0,0.32)" stroke-width="0.75"/>
<circle cx="348.90" cy="190.90" r="2.2" fill="rgba(0,0,0,0.22)" stroke="rgba(0,0,0,0.32)" stroke-width="0.75"/>
<circle cx="352.60" cy="192.80" r="2.2" fill="rgba(0,0,0,0.22)" stroke="rgba(0,0,0,0.32)" stroke-width="0.75"/>
<circle cx="355.70" cy="189.70" r="2.2" fill="rgba(0,0,0,0.22)" stroke="rgba(0,0,0,0.32)" stroke-width="0.75"/>
<circle cx="351.00" cy="191.50" r="2.2" fill="rgba(0,0,0,0.22)" stroke="rgba(0,0,0,0.32)" stroke-width="0.75"/>
<circle cx="374.00" cy="30.30" r="2.2" fill="rgba(0,0,0,0.22)" stroke="rgba(0,0,0,0.32)" stroke-width="0.75"/>
<circle cx="374.30" cy="107.40" r="2.2" fill="rgba(0,0,0,0.22)" stroke="rgba(0,0,0,0.32)" stroke-width="0.75"/>
<circle cx="373.00" cy="122.90" r="2.2" fill="rgba(0,0,0,0.22)" stroke="rgba(0,0,0,0.32)" stroke-width="0.75"/>
<circle cx="375.50" cy="123.60" r="2.2" fill="rgba(0,0,0,0.22)" stroke="rgba(0,0,0,0.32)" stroke-width="0.75"/>
<circle cx="373.90" cy="131.00" r="2.2" fill="rgba(0,0,0,0.22)" stroke="rgba(0,0,0,0.32)" stroke-width="0.75"/>
<circle cx="374.30" cy="137.80" r="2.2" fill="rgba(0,0,0,0.22)" stroke="rgba(0,0,0,0.32)" stroke-width="0.75"/>
<circle cx="373.00" cy="150.80" r="2.2" fill="rgba(0,0,0,0.22)" stroke="rgba(0,0,0,0.32)" stroke-width="0.75"/>
<circle cx="376.00" cy="152.70" r="2.2" fill="rgba(0,0,0,0.22)" stroke="rgba(0,0,0,0.32)" stroke-width="0.75"/>
<circle cx="371.20" cy="158.90" r="2.2" fill="rgba(0,0,0,0.22)" stroke="rgba(0,0,0,0.32)" stroke-width="0.75"/>
<circle cx="376.00" cy="158.30" r="2.2" fill="rgba(0,0,0,0.22)" stroke="rgba(0,0,0,0.32)" stroke-width="0.75"/>
<circle cx="371.20" cy="159.30" r="2.2" fill="rgba(0,0,0,0.22)" stroke="rgba(0,0,0,0.32)" stroke-width="0.75"/>
<circle cx="376.80" cy="160.00" r="2.2" fill="rgba(0,0,0,0.22)" stroke="rgba(0,0,0,0.32)" stroke-width="0.75"/>
<circle cx="374.00" cy="152.50" r="2.2" fill="rgba(0,0,0,0.22)" stroke="rgba(0,0,0,0.32)" stroke-width="0.75"/>
<circle cx="376.00" cy="152.50" r="2.2" fill="rgba(0,0,0,0.22)" stroke="rgba(0,0,0,0.32)" stroke-width="0.75"/>
<circle cx="373.44" cy="163.31" r="2.2" fill="rgba(0,0,0,0.22)" stroke="rgba(0,0,0,0.32)" stroke-width="0.75"/>
<circle cx="373.73" cy="164.37" r="2.2" fill="rgba(0,0,0,0.22)" stroke="rgba(0,0,0,0.32)" stroke-width="0.75"/>
<circle cx="370.81" cy="165.05" r="2.2" fill="rgba(0,0,0,0.22)" stroke="rgba(0,0,0,0.32)" stroke-width="0.75"/>
<circle cx="375.09" cy="165.29" r="2.2" fill="rgba(0,0,0,0.22)" stroke="rgba(0,0,0,0.32)" stroke-width="0.75"/>
<circle cx="380.43" cy="166.53" r="2.2" fill="rgba(0,0,0,0.22)" stroke="rgba(0,0,0,0.32)" stroke-width="0.75"/>
<circle cx="368.46" cy="167.08" r="2.2" fill="rgba(0,0,0,0.22)" stroke="rgba(0,0,0,0.32)" stroke-width="0.75"/>
<circle cx="376.09" cy="167.70" r="2.2" fill="rgba(0,0,0,0.22)" stroke="rgba(0,0,0,0.32)" stroke-width="0.75"/>
<circle cx="369.74" cy="168.69" r="2.2" fill="rgba(0,0,0,0.22)" stroke="rgba(0,0,0,0.32)" stroke-width="0.75"/>
<circle cx="369.89" cy="169.51" r="2.2" fill="rgba(0,0,0,0.22)" stroke="rgba(0,0,0,0.32)" stroke-width="0.75"/>
<circle cx="377.23" cy="169.74" r="2.2" fill="rgba(0,0,0,0.22)" stroke="rgba(0,0,0,0.32)" stroke-width="0.75"/>
<circle cx="379.27" cy="170.71" r="2.2" fill="rgba(0,0,0,0.22)" stroke="rgba(0,0,0,0.32)" stroke-width="0.75"/>
<circle cx="374.48" cy="171.69" r="2.2" fill="rgba(0,0,0,0.22)" stroke="rgba(0,0,0,0.32)" stroke-width="0.75"/>
<circle cx="369.73" cy="172.25" r="2.2" fill="rgba(0,0,0,0.22)" stroke="rgba(0,0,0,0.32)" stroke-width="0.75"/>
<circle cx="375.40" cy="172.87" r="2.2" fill="rgba(0,0,0,0.22)" stroke="rgba(0,0,0,0.32)" stroke-width="0.75"/>
<circle cx="373.28" cy="173.36" r="2.2" fill="rgba(0,0,0,0.22)" stroke="rgba(0,0,0,0.32)" stroke-width="0.75"/>
<circle cx="369.86" cy="174.21" r="2.2" fill="rgba(0,0,0,0.22)" stroke="rgba(0,0,0,0.32)" stroke-width="0.75"/>
<circle cx="369.88" cy="175.19" r="2.2" fill="rgba(0,0,0,0.22)" stroke="rgba(0,0,0,0.32)" stroke-width="0.75"/>
<circle cx="377.81" cy="175.62" r="2.2" fill="rgba(0,0,0,0.22)" stroke="rgba(0,0,0,0.32)" stroke-width="0.75"/>
<circle cx="378.72" cy="176.65" r="2.2" fill="rgba(0,0,0,0.22)" stroke="rgba(0,0,0,0.32)" stroke-width="0.75"/>
<circle cx="378.57" cy="177.07" r="2.2" fill="rgba(0,0,0,0.22)" stroke="rgba(0,0,0,0.32)" stroke-width="0.75"/>
<circle cx="380.40" cy="178.05" r="2.2" fill="rgba(0,0,0,0.22)" stroke="rgba(0,0,0,0.32)" stroke-width="0.75"/>
<circle cx="370.02" cy="178.70" r="2.2" fill="rgba(0,0,0,0.22)" stroke="rgba(0,0,0,0.32)" stroke-width="0.75"/>
<circle cx="375.69" cy="179.56" r="2.2" fill="rgba(0,0,0,0.22)" stroke="rgba(0,0,0,0.32)" stroke-width="0.75"/>
<circle cx="376.65" cy="180.12" r="2.2" fill="rgba(0,0,0,0.22)" stroke="rgba(0,0,0,0.32)" stroke-width="0.75"/>
<circle cx="373.87" cy="181.24" r="2.2" fill="rgba(0,0,0,0.22)" stroke="rgba(0,0,0,0.32)" stroke-width="0.75"/>
<circle cx="380.15" cy="181.93" r="2.2" fill="rgba(0,0,0,0.22)" stroke="rgba(0,0,0,0.32)" stroke-width="0.75"/>
<circle cx="371.61" cy="182.28" r="2.2" fill="rgba(0,0,0,0.22)" stroke="rgba(0,0,0,0.32)" stroke-width="0.75"/>
<circle cx="372.67" cy="183.44" r="2.2" fill="rgba(0,0,0,0.22)" stroke="rgba(0,0,0,0.32)" stroke-width="0.75"/>
<circle cx="371.76" cy="183.79" r="2.2" fill="rgba(0,0,0,0.22)" stroke="rgba(0,0,0,0.32)" stroke-width="0.75"/>
<circle cx="375.55" cy="184.63" r="2.2" fill="rgba(0,0,0,0.22)" stroke="rgba(0,0,0,0.32)" stroke-width="0.75"/>
<circle cx="370.80" cy="185.27" r="2.2" fill="rgba(0,0,0,0.22)" stroke="rgba(0,0,0,0.32)" stroke-width="0.75"/>
<circle cx="374.80" cy="186.00" r="2.2" fill="rgba(0,0,0,0.22)" stroke="rgba(0,0,0,0.32)" stroke-width="0.75"/>
<circle cx="370.98" cy="186.39" r="2.2" fill="rgba(0,0,0,0.22)" stroke="rgba(0,0,0,0.32)" stroke-width="0.75"/>
<circle cx="371.04" cy="187.06" r="2.2" fill="rgba(0,0,0,0.22)" stroke="rgba(0,0,0,0.32)" stroke-width="0.75"/>
<circle cx="376.58" cy="187.84" r="2.2" fill="rgba(0,0,0,0.22)" stroke="rgba(0,0,0,0.32)" stroke-width="0.75"/>
<circle cx="378.81" cy="188.51" r="2.2" fill="rgba(0,0,0,0.22)" stroke="rgba(0,0,0,0.32)" stroke-width="0.75"/>
<circle cx="379.99" cy="188.97" r="2.2" fill="rgba(0,0,0,0.22)" stroke="rgba(0,0,0,0.32)" stroke-width="0.75"/>
<circle cx="376.13" cy="189.81" r="2.2" fill="rgba(0,0,0,0.22)" stroke="rgba(0,0,0,0.32)" stroke-width="0.75"/>
<circle cx="369.65" cy="190.35" r="2.2" fill="rgba(0,0,0,0.22)" stroke="rgba(0,0,0,0.32)" stroke-width="0.75"/>
<circle cx="371.71" cy="190.67" r="2.2" fill="rgba(0,0,0,0.22)" stroke="rgba(0,0,0,0.32)" stroke-width="0.75"/>
<circle cx="369.05" cy="191.32" r="2.2" fill="rgba(0,0,0,0.22)" stroke="rgba(0,0,0,0.32)" stroke-width="0.75"/>
<circle cx="380.99" cy="192.03" r="2.2" fill="rgba(0,0,0,0.22)" stroke="rgba(0,0,0,0.32)" stroke-width="0.75"/>
<circle cx="378.86" cy="192.50" r="2.2" fill="rgba(0,0,0,0.22)" stroke="rgba(0,0,0,0.32)" stroke-width="0.75"/>
<circle cx="380.96" cy="193.33" r="2.2" fill="rgba(0,0,0,0.22)" stroke="rgba(0,0,0,0.32)" stroke-width="0.75"/>
<circle cx="367.84" cy="193.69" r="2.2" fill="rgba(0,0,0,0.22)" stroke="rgba(0,0,0,0.32)" stroke-width="0.75"/>
<circle cx="370.62" cy="194.33" r="2.2" fill="rgba(0,0,0,0.22)" stroke="rgba(0,0,0,0.32)" stroke-width="0.75"/>
<circle cx="380.36" cy="194.91" r="2.2" fill="rgba(0,0,0,0.22)" stroke="rgba(0,0,0,0.32)" stroke-width="0.75"/>
<circle cx="379.79" cy="195.48" r="2.2" fill="rgba(0,0,0,0.22)" stroke="rgba(0,0,0,0.32)" stroke-width="0.75"/>
<circle cx="376.50" cy="195.82" r="2.2" fill="rgba(0,0,0,0.22)" stroke="rgba(0,0,0,0.32)" stroke-width="0.75"/>
<circle cx="374.89" cy="196.69" r="2.2" fill="rgba(0,0,0,0.22)" stroke="rgba(0,0,0,0.32)" stroke-width="0.75"/>
<circle cx="374.59" cy="197.85" r="2.2" fill="rgba(0,0,0,0.22)" stroke="rgba(0,0,0,0.32)" stroke-width="0.75"/>
<circle cx="375.94" cy="198.25" r="2.2" fill="rgba(0,0,0,0.22)" stroke="rgba(0,0,0,0.32)" stroke-width="0.75"/>
<circle cx="374.22" cy="199.70" r="2.2" fill="rgba(0,0,0,0.22)" stroke="rgba(0,0,0,0.32)" stroke-width="0.75"/>
</g>
<text transform="translate(367.15,39.60) scale(1,1.1)" font-size="11.6" text-anchor="middle" fill="#000" font-weight="normal" >ns</text>
<line x1="336.30" y1="205.60" x2="339.00" y2="205.60" stroke="#333" stroke-width="1.0" />
<text transform="translate(333.70,209.90) scale(1,1.15)" font-size="9.3" text-anchor="end" fill="#4D4D4D" font-weight="normal" >0</text>
<line x1="336.30" y1="165.82" x2="339.00" y2="165.82" stroke="#333" stroke-width="1.0" />
<text transform="translate(333.70,170.12) scale(1,1.15)" font-size="9.3" text-anchor="end" fill="#4D4D4D" font-weight="normal" >50</text>
<line x1="336.30" y1="126.05" x2="339.00" y2="126.05" stroke="#333" stroke-width="1.0" />
<text transform="translate(333.70,130.35) scale(1,1.15)" font-size="9.3" text-anchor="end" fill="#4D4D4D" font-weight="normal" >100</text>
<line x1="336.30" y1="86.27" x2="339.00" y2="86.27" stroke="#333" stroke-width="1.0" />
<text transform="translate(333.70,90.57) scale(1,1.15)" font-size="9.3" text-anchor="end" fill="#4D4D4D" font-weight="normal" >150</text>
<line x1="336.30" y1="46.50" x2="339.00" y2="46.50" stroke="#333" stroke-width="1.0" />
<text transform="translate(333.70,50.80) scale(1,1.15)" font-size="9.3" text-anchor="end" fill="#4D4D4D" font-weight="normal" >200</text>
<line x1="352.17" y1="206.70" x2="352.17" y2="210.40" stroke="#333" stroke-width="1.0" />
<text transform="translate(352.17,220.80) scale(1,1.15)" font-size="9.3" text-anchor="middle" fill="#4D4D4D" font-weight="normal" >H</text>
<line x1="374.13" y1="206.70" x2="374.13" y2="210.40" stroke="#333" stroke-width="1.0" />
<text transform="translate(374.13,220.80) scale(1,1.15)" font-size="9.3" text-anchor="middle" fill="#4D4D4D" font-weight="normal" >LS</text>
<rect x="412.30" y="2.00" width="48.50" height="20.30" fill="#D9D9D9" />
<text transform="translate(436.55,16.00) scale(1,1.1)" font-size="9.4" text-anchor="middle" fill="#1A1A1A" font-weight="normal" >TNFa</text>
<rect x="412.30" y="22.30" width="48.50" height="184.40" fill="#EBEBEB" />
<g clip-path="url(#cATNFa)">
<line x1="412.30" y1="189.43" x2="460.80" y2="189.43" stroke="#fff" stroke-width="0.55" />
<line x1="412.30" y1="155.09" x2="460.80" y2="155.09" stroke="#fff" stroke-width="0.55" />
<line x1="412.30" y1="120.75" x2="460.80" y2="120.75" stroke="#fff" stroke-width="0.55" />
<line x1="412.30" y1="86.41" x2="460.80" y2="86.41" stroke="#fff" stroke-width="0.55" />
<line x1="412.30" y1="52.07" x2="460.80" y2="52.07" stroke="#fff" stroke-width="0.55" />
<line x1="412.30" y1="206.60" x2="460.80" y2="206.60" stroke="#fff" stroke-width="1.05" />
<line x1="412.30" y1="172.26" x2="460.80" y2="172.26" stroke="#fff" stroke-width="1.05" />
<line x1="412.30" y1="137.92" x2="460.80" y2="137.92" stroke="#fff" stroke-width="1.05" />
<line x1="412.30" y1="103.58" x2="460.80" y2="103.58" stroke="#fff" stroke-width="1.05" />
<line x1="412.30" y1="69.24" x2="460.80" y2="69.24" stroke="#fff" stroke-width="1.05" />
<line x1="412.30" y1="34.90" x2="460.80" y2="34.90" stroke="#fff" stroke-width="1.05" />
<line x1="425.53" y1="22.30" x2="425.53" y2="206.70" stroke="#fff" stroke-width="1.05" />
<line x1="447.57" y1="22.30" x2="447.57" y2="206.70" stroke="#fff" stroke-width="1.05" />
<line x1="425.50" y1="30.70" x2="425.50" y2="101.40" stroke="#1a1a1a" stroke-width="1.05" />
<line x1="425.50" y1="179.40" x2="425.50" y2="197.70" stroke="#1a1a1a" stroke-width="1.05" />
<rect x="417.26" y="101.40" width="16.53" height="78.00" fill="#66CDAA" stroke="#1a1a1a" stroke-width="1.1"/>
<line x1="417.26" y1="166.50" x2="433.79" y2="166.50" stroke="#1a1a1a" stroke-width="2.2" />
<line x1="447.50" y1="118.60" x2="447.50" y2="158.40" stroke="#1a1a1a" stroke-width="1.05" />
<line x1="447.50" y1="189.40" x2="447.50" y2="198.30" stroke="#1a1a1a" stroke-width="1.05" />
<rect x="439.31" y="158.40" width="16.53" height="31.00" fill="#FFB90F" stroke="#1a1a1a" stroke-width="1.1"/>
<line x1="439.31" y1="178.90" x2="455.84" y2="178.90" stroke="#1a1a1a" stroke-width="2.2" />
<circle cx="424.50" cy="31.20" r="2.2" fill="rgba(0,0,0,0.22)" stroke="rgba(0,0,0,0.32)" stroke-width="0.75"/>
<circle cx="427.00" cy="30.20" r="2.2" fill="rgba(0,0,0,0.22)" stroke="rgba(0,0,0,0.32)" stroke-width="0.75"/>
<circle cx="426.20" cy="50.10" r="2.2" fill="rgba(0,0,0,0.22)" stroke="rgba(0,0,0,0.32)" stroke-width="0.75"/>
<circle cx="423.20" cy="59.70" r="2.2" fill="rgba(0,0,0,0.22)" stroke="rgba(0,0,0,0.32)" stroke-width="0.75"/>
<circle cx="427.80" cy="67.90" r="2.2" fill="rgba(0,0,0,0.22)" stroke="rgba(0,0,0,0.32)" stroke-width="0.75"/>
<circle cx="424.90" cy="73.20" r="2.2" fill="rgba(0,0,0,0.22)" stroke="rgba(0,0,0,0.32)" stroke-width="0.75"/>
<circle cx="426.50" cy="99.30" r="2.2" fill="rgba(0,0,0,0.22)" stroke="rgba(0,0,0,0.32)" stroke-width="0.75"/>
<circle cx="426.30" cy="100.00" r="2.2" fill="rgba(0,0,0,0.22)" stroke="rgba(0,0,0,0.32)" stroke-width="0.75"/>
<circle cx="424.10" cy="106.20" r="2.2" fill="rgba(0,0,0,0.22)" stroke="rgba(0,0,0,0.32)" stroke-width="0.75"/>
<circle cx="427.20" cy="106.20" r="2.2" fill="rgba(0,0,0,0.22)" stroke="rgba(0,0,0,0.32)" stroke-width="0.75"/>
<circle cx="425.60" cy="137.10" r="2.2" fill="rgba(0,0,0,0.22)" stroke="rgba(0,0,0,0.32)" stroke-width="0.75"/>
<circle cx="422.90" cy="144.60" r="2.2" fill="rgba(0,0,0,0.22)" stroke="rgba(0,0,0,0.32)" stroke-width="0.75"/>
<circle cx="428.50" cy="151.40" r="2.2" fill="rgba(0,0,0,0.22)" stroke="rgba(0,0,0,0.32)" stroke-width="0.75"/>
<circle cx="420.40" cy="171.70" r="2.2" fill="rgba(0,0,0,0.22)" stroke="rgba(0,0,0,0.32)" stroke-width="0.75"/>
<circle cx="422.90" cy="173.60" r="2.2" fill="rgba(0,0,0,0.22)" stroke="rgba(0,0,0,0.32)" stroke-width="0.75"/>
<circle cx="430.30" cy="172.90" r="2.2" fill="rgba(0,0,0,0.22)" stroke="rgba(0,0,0,0.32)" stroke-width="0.75"/>
<circle cx="426.60" cy="177.30" r="2.2" fill="rgba(0,0,0,0.22)" stroke="rgba(0,0,0,0.32)" stroke-width="0.75"/>
<circle cx="417.50" cy="178.00" r="2.2" fill="rgba(0,0,0,0.22)" stroke="rgba(0,0,0,0.32)" stroke-width="0.75"/>
<circle cx="419.80" cy="181.60" r="2.2" fill="rgba(0,0,0,0.22)" stroke="rgba(0,0,0,0.32)" stroke-width="0.75"/>
<circle cx="423.50" cy="182.00" r="2.2" fill="rgba(0,0,0,0.22)" stroke="rgba(0,0,0,0.32)" stroke-width="0.75"/>
<circle cx="427.80" cy="184.10" r="2.2" fill="rgba(0,0,0,0.22)" stroke="rgba(0,0,0,0.32)" stroke-width="0.75"/>
<circle cx="432.20" cy="180.40" r="2.2" fill="rgba(0,0,0,0.22)" stroke="rgba(0,0,0,0.32)" stroke-width="0.75"/>
<circle cx="419.20" cy="186.60" r="2.2" fill="rgba(0,0,0,0.22)" stroke="rgba(0,0,0,0.32)" stroke-width="0.75"/>
<circle cx="422.30" cy="196.50" r="2.2" fill="rgba(0,0,0,0.22)" stroke="rgba(0,0,0,0.32)" stroke-width="0.75"/>
<circle cx="428.50" cy="196.50" r="2.2" fill="rgba(0,0,0,0.22)" stroke="rgba(0,0,0,0.32)" stroke-width="0.75"/>
<circle cx="425.40" cy="199.30" r="2.2" fill="rgba(0,0,0,0.22)" stroke="rgba(0,0,0,0.32)" stroke-width="0.75"/>
<circle cx="447.20" cy="95.20" r="2.2" fill="rgba(0,0,0,0.22)" stroke="rgba(0,0,0,0.32)" stroke-width="0.75"/>
<circle cx="447.40" cy="107.40" r="2.2" fill="rgba(0,0,0,0.22)" stroke="rgba(0,0,0,0.32)" stroke-width="0.75"/>
<circle cx="446.70" cy="118.60" r="2.2" fill="rgba(0,0,0,0.22)" stroke="rgba(0,0,0,0.32)" stroke-width="0.75"/>
<circle cx="447.90" cy="128.50" r="2.2" fill="rgba(0,0,0,0.22)" stroke="rgba(0,0,0,0.32)" stroke-width="0.75"/>
<circle cx="447.00" cy="140.90" r="2.2" fill="rgba(0,0,0,0.22)" stroke="rgba(0,0,0,0.32)" stroke-width="0.75"/>
<circle cx="446.00" cy="144.00" r="2.2" fill="rgba(0,0,0,0.22)" stroke="rgba(0,0,0,0.32)" stroke-width="0.75"/>
<circle cx="449.00" cy="144.60" r="2.2" fill="rgba(0,0,0,0.22)" stroke="rgba(0,0,0,0.32)" stroke-width="0.75"/>
<circle cx="446.50" cy="147.00" r="2.2" fill="rgba(0,0,0,0.22)" stroke="rgba(0,0,0,0.32)" stroke-width="0.75"/>
<circle cx="447.50" cy="152.00" r="2.2" fill="rgba(0,0,0,0.22)" stroke="rgba(0,0,0,0.32)" stroke-width="0.75"/>
<circle cx="444.60" cy="155.00" r="2.2" fill="rgba(0,0,0,0.22)" stroke="rgba(0,0,0,0.32)" stroke-width="0.75"/>
<circle cx="450.10" cy="155.60" r="2.2" fill="rgba(0,0,0,0.22)" stroke="rgba(0,0,0,0.32)" stroke-width="0.75"/>
<circle cx="446.19" cy="158.60" r="2.2" fill="rgba(0,0,0,0.22)" stroke="rgba(0,0,0,0.32)" stroke-width="0.75"/>
<circle cx="451.90" cy="159.34" r="2.2" fill="rgba(0,0,0,0.22)" stroke="rgba(0,0,0,0.32)" stroke-width="0.75"/>
<circle cx="444.79" cy="160.13" r="2.2" fill="rgba(0,0,0,0.22)" stroke="rgba(0,0,0,0.32)" stroke-width="0.75"/>
<circle cx="444.45" cy="161.17" r="2.2" fill="rgba(0,0,0,0.22)" stroke="rgba(0,0,0,0.32)" stroke-width="0.75"/>
<circle cx="448.36" cy="162.64" r="2.2" fill="rgba(0,0,0,0.22)" stroke="rgba(0,0,0,0.32)" stroke-width="0.75"/>
<circle cx="445.37" cy="163.60" r="2.2" fill="rgba(0,0,0,0.22)" stroke="rgba(0,0,0,0.32)" stroke-width="0.75"/>
<circle cx="447.70" cy="164.10" r="2.2" fill="rgba(0,0,0,0.22)" stroke="rgba(0,0,0,0.32)" stroke-width="0.75"/>
<circle cx="449.98" cy="165.40" r="2.2" fill="rgba(0,0,0,0.22)" stroke="rgba(0,0,0,0.32)" stroke-width="0.75"/>
<circle cx="446.57" cy="165.77" r="2.2" fill="rgba(0,0,0,0.22)" stroke="rgba(0,0,0,0.32)" stroke-width="0.75"/>
<circle cx="447.22" cy="166.97" r="2.2" fill="rgba(0,0,0,0.22)" stroke="rgba(0,0,0,0.32)" stroke-width="0.75"/>
<circle cx="447.84" cy="167.79" r="2.2" fill="rgba(0,0,0,0.22)" stroke="rgba(0,0,0,0.32)" stroke-width="0.75"/>
<circle cx="450.68" cy="169.28" r="2.2" fill="rgba(0,0,0,0.22)" stroke="rgba(0,0,0,0.32)" stroke-width="0.75"/>
<circle cx="444.68" cy="169.86" r="2.2" fill="rgba(0,0,0,0.22)" stroke="rgba(0,0,0,0.32)" stroke-width="0.75"/>
<circle cx="443.15" cy="171.09" r="2.2" fill="rgba(0,0,0,0.22)" stroke="rgba(0,0,0,0.32)" stroke-width="0.75"/>
<circle cx="449.55" cy="171.49" r="2.2" fill="rgba(0,0,0,0.22)" stroke="rgba(0,0,0,0.32)" stroke-width="0.75"/>
<circle cx="447.67" cy="173.12" r="2.2" fill="rgba(0,0,0,0.22)" stroke="rgba(0,0,0,0.32)" stroke-width="0.75"/>
<circle cx="450.27" cy="173.94" r="2.2" fill="rgba(0,0,0,0.22)" stroke="rgba(0,0,0,0.32)" stroke-width="0.75"/>
<circle cx="450.18" cy="174.58" r="2.2" fill="rgba(0,0,0,0.22)" stroke="rgba(0,0,0,0.32)" stroke-width="0.75"/>
<circle cx="449.81" cy="176.01" r="2.2" fill="rgba(0,0,0,0.22)" stroke="rgba(0,0,0,0.32)" stroke-width="0.75"/>
<circle cx="446.99" cy="176.43" r="2.2" fill="rgba(0,0,0,0.22)" stroke="rgba(0,0,0,0.32)" stroke-width="0.75"/>
<circle cx="448.76" cy="177.43" r="2.2" fill="rgba(0,0,0,0.22)" stroke="rgba(0,0,0,0.32)" stroke-width="0.75"/>
<circle cx="449.74" cy="178.14" r="2.2" fill="rgba(0,0,0,0.22)" stroke="rgba(0,0,0,0.32)" stroke-width="0.75"/>
<circle cx="449.41" cy="179.42" r="2.2" fill="rgba(0,0,0,0.22)" stroke="rgba(0,0,0,0.32)" stroke-width="0.75"/>
<circle cx="449.53" cy="179.93" r="2.2" fill="rgba(0,0,0,0.22)" stroke="rgba(0,0,0,0.32)" stroke-width="0.75"/>
<circle cx="450.57" cy="180.14" r="2.2" fill="rgba(0,0,0,0.22)" stroke="rgba(0,0,0,0.32)" stroke-width="0.75"/>
<circle cx="452.02" cy="180.93" r="2.2" fill="rgba(0,0,0,0.22)" stroke="rgba(0,0,0,0.32)" stroke-width="0.75"/>
<circle cx="450.75" cy="181.20" r="2.2" fill="rgba(0,0,0,0.22)" stroke="rgba(0,0,0,0.32)" stroke-width="0.75"/>
<circle cx="448.65" cy="181.72" r="2.2" fill="rgba(0,0,0,0.22)" stroke="rgba(0,0,0,0.32)" stroke-width="0.75"/>
<circle cx="453.26" cy="182.42" r="2.2" fill="rgba(0,0,0,0.22)" stroke="rgba(0,0,0,0.32)" stroke-width="0.75"/>
<circle cx="440.87" cy="182.87" r="2.2" fill="rgba(0,0,0,0.22)" stroke="rgba(0,0,0,0.32)" stroke-width="0.75"/>
<circle cx="450.65" cy="183.38" r="2.2" fill="rgba(0,0,0,0.22)" stroke="rgba(0,0,0,0.32)" stroke-width="0.75"/>
<circle cx="453.25" cy="183.79" r="2.2" fill="rgba(0,0,0,0.22)" stroke="rgba(0,0,0,0.32)" stroke-width="0.75"/>
<circle cx="448.03" cy="184.18" r="2.2" fill="rgba(0,0,0,0.22)" stroke="rgba(0,0,0,0.32)" stroke-width="0.75"/>
<circle cx="453.06" cy="184.86" r="2.2" fill="rgba(0,0,0,0.22)" stroke="rgba(0,0,0,0.32)" stroke-width="0.75"/>
<circle cx="442.43" cy="185.13" r="2.2" fill="rgba(0,0,0,0.22)" stroke="rgba(0,0,0,0.32)" stroke-width="0.75"/>
<circle cx="441.38" cy="185.65" r="2.2" fill="rgba(0,0,0,0.22)" stroke="rgba(0,0,0,0.32)" stroke-width="0.75"/>
<circle cx="442.97" cy="186.06" r="2.2" fill="rgba(0,0,0,0.22)" stroke="rgba(0,0,0,0.32)" stroke-width="0.75"/>
<circle cx="443.65" cy="186.68" r="2.2" fill="rgba(0,0,0,0.22)" stroke="rgba(0,0,0,0.32)" stroke-width="0.75"/>
<circle cx="453.04" cy="187.40" r="2.2" fill="rgba(0,0,0,0.22)" stroke="rgba(0,0,0,0.32)" stroke-width="0.75"/>
<circle cx="448.75" cy="187.66" r="2.2" fill="rgba(0,0,0,0.22)" stroke="rgba(0,0,0,0.32)" stroke-width="0.75"/>
<circle cx="449.24" cy="188.09" r="2.2" fill="rgba(0,0,0,0.22)" stroke="rgba(0,0,0,0.32)" stroke-width="0.75"/>
<circle cx="442.73" cy="188.83" r="2.2" fill="rgba(0,0,0,0.22)" stroke="rgba(0,0,0,0.32)" stroke-width="0.75"/>
<circle cx="446.07" cy="189.11" r="2.2" fill="rgba(0,0,0,0.22)" stroke="rgba(0,0,0,0.32)" stroke-width="0.75"/>
<circle cx="444.07" cy="189.60" r="2.2" fill="rgba(0,0,0,0.22)" stroke="rgba(0,0,0,0.32)" stroke-width="0.75"/>
<circle cx="440.73" cy="190.01" r="2.2" fill="rgba(0,0,0,0.22)" stroke="rgba(0,0,0,0.32)" stroke-width="0.75"/>
<circle cx="455.00" cy="190.36" r="2.2" fill="rgba(0,0,0,0.22)" stroke="rgba(0,0,0,0.32)" stroke-width="0.75"/>
<circle cx="451.65" cy="190.79" r="2.2" fill="rgba(0,0,0,0.22)" stroke="rgba(0,0,0,0.32)" stroke-width="0.75"/>
<circle cx="446.81" cy="191.08" r="2.2" fill="rgba(0,0,0,0.22)" stroke="rgba(0,0,0,0.32)" stroke-width="0.75"/>
<circle cx="453.92" cy="191.51" r="2.2" fill="rgba(0,0,0,0.22)" stroke="rgba(0,0,0,0.32)" stroke-width="0.75"/>
<circle cx="448.54" cy="191.74" r="2.2" fill="rgba(0,0,0,0.22)" stroke="rgba(0,0,0,0.32)" stroke-width="0.75"/>
<circle cx="452.65" cy="192.08" r="2.2" fill="rgba(0,0,0,0.22)" stroke="rgba(0,0,0,0.32)" stroke-width="0.75"/>
<circle cx="453.61" cy="192.59" r="2.2" fill="rgba(0,0,0,0.22)" stroke="rgba(0,0,0,0.32)" stroke-width="0.75"/>
<circle cx="442.16" cy="192.91" r="2.2" fill="rgba(0,0,0,0.22)" stroke="rgba(0,0,0,0.32)" stroke-width="0.75"/>
<circle cx="439.87" cy="193.31" r="2.2" fill="rgba(0,0,0,0.22)" stroke="rgba(0,0,0,0.32)" stroke-width="0.75"/>
<circle cx="440.51" cy="193.78" r="2.2" fill="rgba(0,0,0,0.22)" stroke="rgba(0,0,0,0.32)" stroke-width="0.75"/>
<circle cx="441.58" cy="194.21" r="2.2" fill="rgba(0,0,0,0.22)" stroke="rgba(0,0,0,0.32)" stroke-width="0.75"/>
<circle cx="446.94" cy="194.43" r="2.2" fill="rgba(0,0,0,0.22)" stroke="rgba(0,0,0,0.32)" stroke-width="0.75"/>
<circle cx="442.35" cy="194.91" r="2.2" fill="rgba(0,0,0,0.22)" stroke="rgba(0,0,0,0.32)" stroke-width="0.75"/>
<circle cx="442.31" cy="195.05" r="2.2" fill="rgba(0,0,0,0.22)" stroke="rgba(0,0,0,0.32)" stroke-width="0.75"/>
<circle cx="450.53" cy="195.45" r="2.2" fill="rgba(0,0,0,0.22)" stroke="rgba(0,0,0,0.32)" stroke-width="0.75"/>
<circle cx="450.72" cy="196.08" r="2.2" fill="rgba(0,0,0,0.22)" stroke="rgba(0,0,0,0.32)" stroke-width="0.75"/>
<circle cx="441.23" cy="196.44" r="2.2" fill="rgba(0,0,0,0.22)" stroke="rgba(0,0,0,0.32)" stroke-width="0.75"/>
<circle cx="452.35" cy="196.80" r="2.2" fill="rgba(0,0,0,0.22)" stroke="rgba(0,0,0,0.32)" stroke-width="0.75"/>
<circle cx="451.49" cy="196.99" r="2.2" fill="rgba(0,0,0,0.22)" stroke="rgba(0,0,0,0.32)" stroke-width="0.75"/>
<circle cx="450.63" cy="197.57" r="2.2" fill="rgba(0,0,0,0.22)" stroke="rgba(0,0,0,0.32)" stroke-width="0.75"/>
<circle cx="452.74" cy="197.84" r="2.2" fill="rgba(0,0,0,0.22)" stroke="rgba(0,0,0,0.32)" stroke-width="0.75"/>
<circle cx="446.35" cy="196.22" r="2.2" fill="rgba(0,0,0,0.22)" stroke="rgba(0,0,0,0.32)" stroke-width="0.75"/>
<circle cx="449.98" cy="196.97" r="2.2" fill="rgba(0,0,0,0.22)" stroke="rgba(0,0,0,0.32)" stroke-width="0.75"/>
<circle cx="450.08" cy="197.84" r="2.2" fill="rgba(0,0,0,0.22)" stroke="rgba(0,0,0,0.32)" stroke-width="0.75"/>
<circle cx="443.86" cy="198.90" r="2.2" fill="rgba(0,0,0,0.22)" stroke="rgba(0,0,0,0.32)" stroke-width="0.75"/>
<circle cx="449.79" cy="199.29" r="2.2" fill="rgba(0,0,0,0.22)" stroke="rgba(0,0,0,0.32)" stroke-width="0.75"/>
</g>
<text transform="translate(439.45,38.60) scale(1,1.15)" font-size="10.4" text-anchor="middle" fill="#000" font-weight="normal" >**</text>
<line x1="409.60" y1="206.60" x2="412.30" y2="206.60" stroke="#333" stroke-width="1.0" />
<text transform="translate(407.00,210.90) scale(1,1.15)" font-size="9.3" text-anchor="end" fill="#4D4D4D" font-weight="normal" >0.0</text>
<line x1="409.60" y1="172.26" x2="412.30" y2="172.26" stroke="#333" stroke-width="1.0" />
<text transform="translate(407.00,176.56) scale(1,1.15)" font-size="9.3" text-anchor="end" fill="#4D4D4D" font-weight="normal" >0.5</text>
<line x1="409.60" y1="137.92" x2="412.30" y2="137.92" stroke="#333" stroke-width="1.0" />
<text transform="translate(407.00,142.22) scale(1,1.15)" font-size="9.3" text-anchor="end" fill="#4D4D4D" font-weight="normal" >1.0</text>
<line x1="409.60" y1="103.58" x2="412.30" y2="103.58" stroke="#333" stroke-width="1.0" />
<text transform="translate(407.00,107.88) scale(1,1.15)" font-size="9.3" text-anchor="end" fill="#4D4D4D" font-weight="normal" >1.5</text>
<line x1="409.60" y1="69.24" x2="412.30" y2="69.24" stroke="#333" stroke-width="1.0" />
<text transform="translate(407.00,73.54) scale(1,1.15)" font-size="9.3" text-anchor="end" fill="#4D4D4D" font-weight="normal" >2.0</text>
<line x1="409.60" y1="34.90" x2="412.30" y2="34.90" stroke="#333" stroke-width="1.0" />
<text transform="translate(407.00,39.20) scale(1,1.15)" font-size="9.3" text-anchor="end" fill="#4D4D4D" font-weight="normal" >2.5</text>
<line x1="425.53" y1="206.70" x2="425.53" y2="210.40" stroke="#333" stroke-width="1.0" />
<text transform="translate(425.53,220.80) scale(1,1.15)" font-size="9.3" text-anchor="middle" fill="#4D4D4D" font-weight="normal" >H</text>
<line x1="447.57" y1="206.70" x2="447.57" y2="210.40" stroke="#333" stroke-width="1.0" />
<text transform="translate(447.57,220.80) scale(1,1.15)" font-size="9.3" text-anchor="middle" fill="#4D4D4D" font-weight="normal" >LS</text>
<text transform="translate(247.90,236.00) scale(1,1.1)" font-size="12.2" text-anchor="middle" fill="#000" font-weight="normal" >group</text>
<text transform="translate(18.7,114.4) rotate(-90) scale(1.057,1.03)" font-size="12.4" text-anchor="middle" fill="#000">Expression</text>
<text transform="translate(0.50,14.00) scale(1,1.16)" font-size="16" text-anchor="start" fill="#000" font-weight="bold" >(A)</text>
<rect x="41.30" y="252.00" width="46.00" height="20.50" fill="#D9D9D9" />
<text transform="translate(64.30,266.20) scale(1,1.1)" font-size="9.4" text-anchor="middle" fill="#1A1A1A" font-weight="normal" >Eotaxin</text>
<rect x="41.30" y="272.50" width="46.00" height="138.10" fill="#EBEBEB" />
<line x1="41.30" y1="387.05" x2="87.30" y2="387.05" stroke="#fff" stroke-width="0.55" />
<line x1="41.30" y1="351.75" x2="87.30" y2="351.75" stroke="#fff" stroke-width="0.55" />
<line x1="41.30" y1="316.45" x2="87.30" y2="316.45" stroke="#fff" stroke-width="0.55" />
<line x1="41.30" y1="281.15" x2="87.30" y2="281.15" stroke="#fff" stroke-width="0.55" />
<line x1="41.30" y1="404.70" x2="87.30" y2="404.70" stroke="#fff" stroke-width="1.05" />
<line x1="41.30" y1="369.40" x2="87.30" y2="369.40" stroke="#fff" stroke-width="1.05" />
<line x1="41.30" y1="334.10" x2="87.30" y2="334.10" stroke="#fff" stroke-width="1.05" />
<line x1="41.30" y1="298.80" x2="87.30" y2="298.80" stroke="#fff" stroke-width="1.05" />
<line x1="53.85" y1="272.50" x2="53.85" y2="410.60" stroke="#fff" stroke-width="1.05" />
<line x1="74.75" y1="272.50" x2="74.75" y2="410.60" stroke="#fff" stroke-width="1.05" />
<rect x="44.44" y="382.96" width="9.41" height="21.74" fill="#F8766D" />
<rect x="53.85" y="278.61" width="9.41" height="126.09" fill="#00BFC4" />
<rect x="65.35" y="300.64" width="9.41" height="104.06" fill="#F8766D" />
<rect x="74.75" y="289.20" width="9.41" height="115.50" fill="#00BFC4" />
<line x1="38.60" y1="404.70" x2="41.30" y2="404.70" stroke="#333" stroke-width="1.0" />
<text transform="translate(36.00,409.00) scale(1,1.15)" font-size="9.3" text-anchor="end" fill="#4D4D4D" font-weight="normal" >0.00</text>
<line x1="38.60" y1="369.40" x2="41.30" y2="369.40" stroke="#333" stroke-width="1.0" />
<text transform="translate(36.00,373.70) scale(1,1.15)" font-size="9.3" text-anchor="end" fill="#4D4D4D" font-weight="normal" >0.25</text>
<line x1="38.60" y1="334.10" x2="41.30" y2="334.10" stroke="#333" stroke-width="1.0" />
<text transform="translate(36.00,338.40) scale(1,1.15)" font-size="9.3" text-anchor="end" fill="#4D4D4D" font-weight="normal" >0.50</text>
<line x1="38.60" y1="298.80" x2="41.30" y2="298.80" stroke="#333" stroke-width="1.0" />
<text transform="translate(36.00,303.10) scale(1,1.15)" font-size="9.3" text-anchor="end" fill="#4D4D4D" font-weight="normal" >0.75</text>
<line x1="53.85" y1="410.60" x2="53.85" y2="414.30" stroke="#333" stroke-width="1.0" />
<text transform="translate(53.85,425.20) scale(1,1.15)" font-size="9.3" text-anchor="middle" fill="#4D4D4D" font-weight="normal" >Z</text>
<line x1="74.75" y1="410.60" x2="74.75" y2="414.30" stroke="#333" stroke-width="1.0" />
<text transform="translate(74.75,425.20) scale(1,1.15)" font-size="9.3" text-anchor="middle" fill="#4D4D4D" font-weight="normal" >N</text>
<rect x="112.10" y="252.00" width="46.10" height="20.50" fill="#D9D9D9" />
<text transform="translate(135.15,266.20) scale(1,1.1)" font-size="9.4" text-anchor="middle" fill="#1A1A1A" font-weight="normal" >Eotaxin3</text>
<rect x="112.10" y="272.50" width="46.10" height="138.10" fill="#EBEBEB" />
<line x1="112.10" y1="388.70" x2="158.20" y2="388.70" stroke="#fff" stroke-width="0.55" />
<line x1="112.10" y1="356.90" x2="158.20" y2="356.90" stroke="#fff" stroke-width="0.55" />
<line x1="112.10" y1="325.10" x2="158.20" y2="325.10" stroke="#fff" stroke-width="0.55" />
<line x1="112.10" y1="293.30" x2="158.20" y2="293.30" stroke="#fff" stroke-width="0.55" />
<line x1="112.10" y1="404.60" x2="158.20" y2="404.60" stroke="#fff" stroke-width="1.05" />
<line x1="112.10" y1="372.80" x2="158.20" y2="372.80" stroke="#fff" stroke-width="1.05" />
<line x1="112.10" y1="341.00" x2="158.20" y2="341.00" stroke="#fff" stroke-width="1.05" />
<line x1="112.10" y1="309.20" x2="158.20" y2="309.20" stroke="#fff" stroke-width="1.05" />
<line x1="112.10" y1="277.40" x2="158.20" y2="277.40" stroke="#fff" stroke-width="1.05" />
<line x1="124.67" y1="272.50" x2="124.67" y2="410.60" stroke="#fff" stroke-width="1.05" />
<line x1="145.63" y1="272.50" x2="145.63" y2="410.60" stroke="#fff" stroke-width="1.05" />
<rect x="115.24" y="378.52" width="9.43" height="26.08" fill="#F8766D" />
<rect x="124.67" y="278.99" width="9.43" height="125.61" fill="#00BFC4" />
<rect x="136.20" y="379.16" width="9.43" height="25.44" fill="#F8766D" />
<rect x="145.63" y="366.76" width="9.43" height="37.84" fill="#00BFC4" />
<line x1="109.40" y1="404.60" x2="112.10" y2="404.60" stroke="#333" stroke-width="1.0" />
<text transform="translate(106.80,408.90) scale(1,1.15)" font-size="9.3" text-anchor="end" fill="#4D4D4D" font-weight="normal" >0.0</text>
<line x1="109.40" y1="372.80" x2="112.10" y2="372.80" stroke="#333" stroke-width="1.0" />
<text transform="translate(106.80,377.10) scale(1,1.15)" font-size="9.3" text-anchor="end" fill="#4D4D4D" font-weight="normal" >0.1</text>
<line x1="109.40" y1="341.00" x2="112.10" y2="341.00" stroke="#333" stroke-width="1.0" />
<text transform="translate(106.80,345.30) scale(1,1.15)" font-size="9.3" text-anchor="end" fill="#4D4D4D" font-weight="normal" >0.2</text>
<line x1="109.40" y1="309.20" x2="112.10" y2="309.20" stroke="#333" stroke-width="1.0" />
<text transform="translate(106.80,313.50) scale(1,1.15)" font-size="9.3" text-anchor="end" fill="#4D4D4D" font-weight="normal" >0.3</text>
<line x1="109.40" y1="277.40" x2="112.10" y2="277.40" stroke="#333" stroke-width="1.0" />
<text transform="translate(106.80,281.70) scale(1,1.15)" font-size="9.3" text-anchor="end" fill="#4D4D4D" font-weight="normal" >0.4</text>
<line x1="124.67" y1="410.60" x2="124.67" y2="414.30" stroke="#333" stroke-width="1.0" />
<text transform="translate(124.67,425.20) scale(1,1.15)" font-size="9.3" text-anchor="middle" fill="#4D4D4D" font-weight="normal" >Z</text>
<line x1="145.63" y1="410.60" x2="145.63" y2="414.30" stroke="#333" stroke-width="1.0" />
<text transform="translate(145.63,425.20) scale(1,1.15)" font-size="9.3" text-anchor="middle" fill="#4D4D4D" font-weight="normal" >N</text>
<rect x="185.90" y="252.00" width="46.10" height="20.50" fill="#D9D9D9" />
<text transform="translate(208.95,266.20) scale(1,1.1)" font-size="9.4" text-anchor="middle" fill="#1A1A1A" font-weight="normal" >IL8</text>
<rect x="185.90" y="272.50" width="46.10" height="138.10" fill="#EBEBEB" />
<line x1="185.90" y1="387.05" x2="232.00" y2="387.05" stroke="#fff" stroke-width="0.55" />
<line x1="185.90" y1="351.55" x2="232.00" y2="351.55" stroke="#fff" stroke-width="0.55" />
<line x1="185.90" y1="316.05" x2="232.00" y2="316.05" stroke="#fff" stroke-width="0.55" />
<line x1="185.90" y1="280.55" x2="232.00" y2="280.55" stroke="#fff" stroke-width="0.55" />
<line x1="185.90" y1="404.80" x2="232.00" y2="404.80" stroke="#fff" stroke-width="1.05" />
<line x1="185.90" y1="369.30" x2="232.00" y2="369.30" stroke="#fff" stroke-width="1.05" />
<line x1="185.90" y1="333.80" x2="232.00" y2="333.80" stroke="#fff" stroke-width="1.05" />
<line x1="185.90" y1="298.30" x2="232.00" y2="298.30" stroke="#fff" stroke-width="1.05" />
<line x1="198.47" y1="272.50" x2="198.47" y2="410.60" stroke="#fff" stroke-width="1.05" />
<line x1="219.43" y1="272.50" x2="219.43" y2="410.60" stroke="#fff" stroke-width="1.05" />
<rect x="189.04" y="351.98" width="9.43" height="52.82" fill="#F8766D" />
<rect x="198.47" y="278.85" width="9.43" height="125.95" fill="#00BFC4" />
<rect x="210.00" y="385.06" width="9.43" height="19.74" fill="#F8766D" />
<rect x="219.43" y="388.04" width="9.43" height="16.76" fill="#00BFC4" />
<line x1="183.20" y1="404.80" x2="185.90" y2="404.80" stroke="#333" stroke-width="1.0" />
<text transform="translate(180.60,409.10) scale(1,1.15)" font-size="9.3" text-anchor="end" fill="#4D4D4D" font-weight="normal" >0</text>
<line x1="183.20" y1="369.30" x2="185.90" y2="369.30" stroke="#333" stroke-width="1.0" />
<text transform="translate(180.60,373.60) scale(1,1.15)" font-size="9.3" text-anchor="end" fill="#4D4D4D" font-weight="normal" >250</text>
<line x1="183.20" y1="333.80" x2="185.90" y2="333.80" stroke="#333" stroke-width="1.0" />
<text transform="translate(180.60,338.10) scale(1,1.15)" font-size="9.3" text-anchor="end" fill="#4D4D4D" font-weight="normal" >500</text>
<line x1="183.20" y1="298.30" x2="185.90" y2="298.30" stroke="#333" stroke-width="1.0" />
<text transform="translate(180.60,302.60) scale(1,1.15)" font-size="9.3" text-anchor="end" fill="#4D4D4D" font-weight="normal" >750</text>
<line x1="198.47" y1="410.60" x2="198.47" y2="414.30" stroke="#333" stroke-width="1.0" />
<text transform="translate(198.47,425.20) scale(1,1.15)" font-size="9.3" text-anchor="middle" fill="#4D4D4D" font-weight="normal" >Z</text>
<line x1="219.43" y1="410.60" x2="219.43" y2="414.30" stroke="#333" stroke-width="1.0" />
<text transform="translate(219.43,425.20) scale(1,1.15)" font-size="9.3" text-anchor="middle" fill="#4D4D4D" font-weight="normal" >N</text>
<rect x="267.80" y="252.00" width="45.90" height="20.50" fill="#D9D9D9" />
<text transform="translate(290.75,266.20) scale(1,1.1)" font-size="9.4" text-anchor="middle" fill="#1A1A1A" font-weight="normal" >IL7</text>
<rect x="267.80" y="272.50" width="45.90" height="138.10" fill="#EBEBEB" />
<line x1="267.80" y1="388.53" x2="313.70" y2="388.53" stroke="#fff" stroke-width="0.55" />
<line x1="267.80" y1="356.38" x2="313.70" y2="356.38" stroke="#fff" stroke-width="0.55" />
<line x1="267.80" y1="324.23" x2="313.70" y2="324.23" stroke="#fff" stroke-width="0.55" />
<line x1="267.80" y1="292.08" x2="313.70" y2="292.08" stroke="#fff" stroke-width="0.55" />
<line x1="267.80" y1="404.60" x2="313.70" y2="404.60" stroke="#fff" stroke-width="1.05" />
<line x1="267.80" y1="372.45" x2="313.70" y2="372.45" stroke="#fff" stroke-width="1.05" />
<line x1="267.80" y1="340.30" x2="313.70" y2="340.30" stroke="#fff" stroke-width="1.05" />
<line x1="267.80" y1="308.15" x2="313.70" y2="308.15" stroke="#fff" stroke-width="1.05" />
<line x1="267.80" y1="276.00" x2="313.70" y2="276.00" stroke="#fff" stroke-width="1.05" />
<line x1="280.32" y1="272.50" x2="280.32" y2="410.60" stroke="#fff" stroke-width="1.05" />
<line x1="301.18" y1="272.50" x2="301.18" y2="410.60" stroke="#fff" stroke-width="1.05" />
<rect x="270.93" y="329.75" width="9.39" height="74.85" fill="#F8766D" />
<rect x="280.32" y="337.73" width="9.39" height="66.87" fill="#00BFC4" />
<rect x="291.79" y="278.96" width="9.39" height="125.64" fill="#F8766D" />
<rect x="301.18" y="317.92" width="9.39" height="86.68" fill="#00BFC4" />
<line x1="265.10" y1="404.60" x2="267.80" y2="404.60" stroke="#333" stroke-width="1.0" />
<text transform="translate(262.50,408.90) scale(1,1.15)" font-size="9.3" text-anchor="end" fill="#4D4D4D" font-weight="normal" >0.000</text>
<line x1="265.10" y1="372.45" x2="267.80" y2="372.45" stroke="#333" stroke-width="1.0" />
<text transform="translate(262.50,376.75) scale(1,1.15)" font-size="9.3" text-anchor="end" fill="#4D4D4D" font-weight="normal" >0.025</text>
<line x1="265.10" y1="340.30" x2="267.80" y2="340.30" stroke="#333" stroke-width="1.0" />
<text transform="translate(262.50,344.60) scale(1,1.15)" font-size="9.3" text-anchor="end" fill="#4D4D4D" font-weight="normal" >0.050</text>
<line x1="265.10" y1="308.15" x2="267.80" y2="308.15" stroke="#333" stroke-width="1.0" />
<text transform="translate(262.50,312.45) scale(1,1.15)" font-size="9.3" text-anchor="end" fill="#4D4D4D" font-weight="normal" >0.075</text>
<line x1="265.10" y1="276.00" x2="267.80" y2="276.00" stroke="#333" stroke-width="1.0" />
<text transform="translate(262.50,280.30) scale(1,1.15)" font-size="9.3" text-anchor="end" fill="#4D4D4D" font-weight="normal" >0.100</text>
<line x1="280.32" y1="410.60" x2="280.32" y2="414.30" stroke="#333" stroke-width="1.0" />
<text transform="translate(280.32,425.20) scale(1,1.15)" font-size="9.3" text-anchor="middle" fill="#4D4D4D" font-weight="normal" >Z</text>
<line x1="301.18" y1="410.60" x2="301.18" y2="414.30" stroke="#333" stroke-width="1.0" />
<text transform="translate(301.18,425.20) scale(1,1.15)" font-size="9.3" text-anchor="middle" fill="#4D4D4D" font-weight="normal" >N</text>
<rect x="336.00" y="252.00" width="45.80" height="20.50" fill="#D9D9D9" />
<text transform="translate(358.90,266.20) scale(1,1.1)" font-size="9.4" text-anchor="middle" fill="#1A1A1A" font-weight="normal" >VEGF</text>
<rect x="336.00" y="272.50" width="45.80" height="138.10" fill="#EBEBEB" />
<line x1="336.00" y1="387.75" x2="381.80" y2="387.75" stroke="#fff" stroke-width="0.55" />
<line x1="336.00" y1="353.65" x2="381.80" y2="353.65" stroke="#fff" stroke-width="0.55" />
<line x1="336.00" y1="319.55" x2="381.80" y2="319.55" stroke="#fff" stroke-width="0.55" />
<line x1="336.00" y1="285.45" x2="381.80" y2="285.45" stroke="#fff" stroke-width="0.55" />
<line x1="336.00" y1="404.80" x2="381.80" y2="404.80" stroke="#fff" stroke-width="1.05" />
<line x1="336.00" y1="370.70" x2="381.80" y2="370.70" stroke="#fff" stroke-width="1.05" />
<line x1="336.00" y1="336.60" x2="381.80" y2="336.60" stroke="#fff" stroke-width="1.05" />
<line x1="336.00" y1="302.50" x2="381.80" y2="302.50" stroke="#fff" stroke-width="1.05" />
<line x1="348.49" y1="272.50" x2="348.49" y2="410.60" stroke="#fff" stroke-width="1.05" />
<line x1="369.31" y1="272.50" x2="369.31" y2="410.60" stroke="#fff" stroke-width="1.05" />
<rect x="339.12" y="374.45" width="9.37" height="30.35" fill="#F8766D" />
<rect x="348.49" y="278.97" width="9.37" height="125.83" fill="#00BFC4" />
<rect x="359.94" y="324.67" width="9.37" height="80.13" fill="#F8766D" />
<rect x="369.31" y="350.92" width="9.37" height="53.88" fill="#00BFC4" />
<line x1="333.30" y1="404.80" x2="336.00" y2="404.80" stroke="#333" stroke-width="1.0" />
<text transform="translate(330.70,409.10) scale(1,1.15)" font-size="9.3" text-anchor="end" fill="#4D4D4D" font-weight="normal" >0</text>
<line x1="333.30" y1="370.70" x2="336.00" y2="370.70" stroke="#333" stroke-width="1.0" />
<text transform="translate(330.70,375.00) scale(1,1.15)" font-size="9.3" text-anchor="end" fill="#4D4D4D" font-weight="normal" >10</text>
<line x1="333.30" y1="336.60" x2="336.00" y2="336.60" stroke="#333" stroke-width="1.0" />
<text transform="translate(330.70,340.90) scale(1,1.15)" font-size="9.3" text-anchor="end" fill="#4D4D4D" font-weight="normal" >20</text>
<line x1="333.30" y1="302.50" x2="336.00" y2="302.50" stroke="#333" stroke-width="1.0" />
<text transform="translate(330.70,306.80) scale(1,1.15)" font-size="9.3" text-anchor="end" fill="#4D4D4D" font-weight="normal" >30</text>
<line x1="348.49" y1="410.60" x2="348.49" y2="414.30" stroke="#333" stroke-width="1.0" />
<text transform="translate(348.49,425.20) scale(1,1.15)" font-size="9.3" text-anchor="middle" fill="#4D4D4D" font-weight="normal" >Z</text>
<line x1="369.31" y1="410.60" x2="369.31" y2="414.30" stroke="#333" stroke-width="1.0" />
<text transform="translate(369.31,425.20) scale(1,1.15)" font-size="9.3" text-anchor="middle" fill="#4D4D4D" font-weight="normal" >N</text>
<rect x="407.00" y="252.00" width="46.00" height="20.50" fill="#D9D9D9" />
<text transform="translate(430.00,266.20) scale(1,1.1)" font-size="9.4" text-anchor="middle" fill="#1A1A1A" font-weight="normal" >TNFa</text>
<rect x="407.00" y="272.50" width="46.00" height="138.10" fill="#EBEBEB" />
<line x1="407.00" y1="389.23" x2="453.00" y2="389.23" stroke="#fff" stroke-width="0.55" />
<line x1="407.00" y1="358.07" x2="453.00" y2="358.07" stroke="#fff" stroke-width="0.55" />
<line x1="407.00" y1="326.93" x2="453.00" y2="326.93" stroke="#fff" stroke-width="0.55" />
<line x1="407.00" y1="295.78" x2="453.00" y2="295.78" stroke="#fff" stroke-width="0.55" />
<line x1="407.00" y1="404.80" x2="453.00" y2="404.80" stroke="#fff" stroke-width="1.05" />
<line x1="407.00" y1="373.65" x2="453.00" y2="373.65" stroke="#fff" stroke-width="1.05" />
<line x1="407.00" y1="342.50" x2="453.00" y2="342.50" stroke="#fff" stroke-width="1.05" />
<line x1="407.00" y1="311.35" x2="453.00" y2="311.35" stroke="#fff" stroke-width="1.05" />
<line x1="407.00" y1="280.20" x2="453.00" y2="280.20" stroke="#fff" stroke-width="1.05" />
<line x1="419.55" y1="272.50" x2="419.55" y2="410.60" stroke="#fff" stroke-width="1.05" />
<line x1="440.45" y1="272.50" x2="440.45" y2="410.60" stroke="#fff" stroke-width="1.05" />
<rect x="410.14" y="326.46" width="9.41" height="78.34" fill="#F8766D" />
<rect x="419.55" y="278.80" width="9.41" height="126.00" fill="#00BFC4" />
<rect x="431.05" y="362.44" width="9.41" height="42.36" fill="#F8766D" />
<rect x="440.45" y="356.52" width="9.41" height="48.28" fill="#00BFC4" />
<line x1="404.30" y1="404.80" x2="407.00" y2="404.80" stroke="#333" stroke-width="1.0" />
<text transform="translate(401.70,409.10) scale(1,1.15)" font-size="9.3" text-anchor="end" fill="#4D4D4D" font-weight="normal" >0.0</text>
<line x1="404.30" y1="373.65" x2="407.00" y2="373.65" stroke="#333" stroke-width="1.0" />
<text transform="translate(401.70,377.95) scale(1,1.15)" font-size="9.3" text-anchor="end" fill="#4D4D4D" font-weight="normal" >0.2</text>
<line x1="404.30" y1="342.50" x2="407.00" y2="342.50" stroke="#333" stroke-width="1.0" />
<text transform="translate(401.70,346.80) scale(1,1.15)" font-size="9.3" text-anchor="end" fill="#4D4D4D" font-weight="normal" >0.4</text>
<line x1="404.30" y1="311.35" x2="407.00" y2="311.35" stroke="#333" stroke-width="1.0" />
<text transform="translate(401.70,315.65) scale(1,1.15)" font-size="9.3" text-anchor="end" fill="#4D4D4D" font-weight="normal" >0.6</text>
<line x1="404.30" y1="280.20" x2="407.00" y2="280.20" stroke="#333" stroke-width="1.0" />
<text transform="translate(401.70,284.50) scale(1,1.15)" font-size="9.3" text-anchor="end" fill="#4D4D4D" font-weight="normal" >0.8</text>
<line x1="419.55" y1="410.60" x2="419.55" y2="414.30" stroke="#333" stroke-width="1.0" />
<text transform="translate(419.55,425.20) scale(1,1.15)" font-size="9.3" text-anchor="middle" fill="#4D4D4D" font-weight="normal" >Z</text>
<line x1="440.45" y1="410.60" x2="440.45" y2="414.30" stroke="#333" stroke-width="1.0" />
<text transform="translate(440.45,425.20) scale(1,1.15)" font-size="9.3" text-anchor="middle" fill="#4D4D4D" font-weight="normal" >N</text>
<text transform="translate(0.50,265.00) scale(1,1.16)" font-size="16" text-anchor="start" fill="#000" font-weight="bold" >(B)</text>
<text transform="translate(184.60,476.30) scale(1,1.1)" font-size="11.8" text-anchor="start" fill="#000" font-weight="normal" >measures</text>
<rect x="243.60" y="462.90" width="17.40" height="19.00" fill="#F8766D" />
<rect x="280.00" y="462.90" width="17.30" height="19.00" fill="#00BFC4" />
<text transform="translate(267.70,476.20) scale(1,0.92)" font-size="9.3" text-anchor="start" fill="#000" font-weight="normal" >μ</text>
<text transform="translate(304.00,476.20) scale(1,0.92)" font-size="9.3" text-anchor="start" fill="#000" font-weight="normal" >σ</text>
<rect x="459.00" y="94.70" width="226.00" height="389.30" fill="#fff" />
<rect x="509.90" y="101.50" width="174.00" height="206.10" fill="#EBEBEB" />
<line x1="545.95" y1="101.50" x2="545.95" y2="307.60" stroke="#fff" stroke-width="0.55" />
<line x1="594.95" y1="101.50" x2="594.95" y2="307.60" stroke="#fff" stroke-width="0.55" />
<line x1="643.95" y1="101.50" x2="643.95" y2="307.60" stroke="#fff" stroke-width="0.55" />
<line x1="521.45" y1="101.50" x2="521.45" y2="307.60" stroke="#fff" stroke-width="1.05" />
<line x1="570.45" y1="101.50" x2="570.45" y2="307.60" stroke="#fff" stroke-width="1.05" />
<line x1="619.45" y1="101.50" x2="619.45" y2="307.60" stroke="#fff" stroke-width="1.05" />
<line x1="668.45" y1="101.50" x2="668.45" y2="307.60" stroke="#fff" stroke-width="1.05" />
<line x1="509.90" y1="287.65" x2="683.90" y2="287.65" stroke="#fff" stroke-width="1.05" />
<line x1="509.90" y1="254.41" x2="683.90" y2="254.41" stroke="#fff" stroke-width="1.05" />
<line x1="509.90" y1="221.17" x2="683.90" y2="221.17" stroke="#fff" stroke-width="1.05" />
<line x1="509.90" y1="187.93" x2="683.90" y2="187.93" stroke="#fff" stroke-width="1.05" />
<line x1="509.90" y1="154.69" x2="683.90" y2="154.69" stroke="#fff" stroke-width="1.05" />
<line x1="509.90" y1="121.45" x2="683.90" y2="121.45" stroke="#fff" stroke-width="1.05" />
<rect x="517.78" y="272.70" width="52.67" height="29.92" fill="#FF0000" />
<line x1="507.20" y1="287.65" x2="509.90" y2="287.65" stroke="#333" stroke-width="1.0" />
<text transform="translate(504.70,291.65) scale(1,1.15)" font-size="9.7" text-anchor="end" fill="#4D4D4D" font-weight="bold" >Eotaxin</text>
<rect x="570.45" y="239.45" width="42.88" height="29.92" fill="#0000FF" />
<line x1="507.20" y1="254.41" x2="509.90" y2="254.41" stroke="#333" stroke-width="1.0" />
<text transform="translate(504.70,258.41) scale(1,1.15)" font-size="9.7" text-anchor="end" fill="#4D4D4D" font-weight="bold" >Eotaxin3</text>
<rect x="542.77" y="206.21" width="27.68" height="29.92" fill="#FF0000" />
<line x1="507.20" y1="221.17" x2="509.90" y2="221.17" stroke="#333" stroke-width="1.0" />
<text transform="translate(504.70,225.17) scale(1,1.15)" font-size="9.7" text-anchor="end" fill="#4D4D4D" font-weight="bold" >IL7</text>
<rect x="570.45" y="172.97" width="105.35" height="29.92" fill="#0000FF" />
<line x1="507.20" y1="187.93" x2="509.90" y2="187.93" stroke="#333" stroke-width="1.0" />
<text transform="translate(504.70,191.93) scale(1,1.15)" font-size="9.7" text-anchor="end" fill="#4D4D4D" font-weight="bold" >IL8</text>
<rect x="570.45" y="139.73" width="56.23" height="29.92" fill="#0000FF" />
<line x1="507.20" y1="154.69" x2="509.90" y2="154.69" stroke="#333" stroke-width="1.0" />
<text transform="translate(504.70,158.69) scale(1,1.15)" font-size="9.7" text-anchor="end" fill="#4D4D4D" font-weight="bold" >TNFa</text>
<rect x="566.16" y="106.49" width="4.29" height="29.92" fill="#FF0000" />
<line x1="507.20" y1="121.45" x2="509.90" y2="121.45" stroke="#333" stroke-width="1.0" />
<text transform="translate(504.70,125.45) scale(1,1.15)" font-size="9.7" text-anchor="end" fill="#4D4D4D" font-weight="bold" >VEGF</text>
<line x1="521.45" y1="307.60" x2="521.45" y2="311.30" stroke="#333" stroke-width="1.0" />
<text transform="translate(521.45,321.50) scale(1,1.15)" font-size="9.3" text-anchor="middle" fill="#4D4D4D" font-weight="bold" >-2</text>
<line x1="570.45" y1="307.60" x2="570.45" y2="311.30" stroke="#333" stroke-width="1.0" />
<text transform="translate(570.45,321.50) scale(1,1.15)" font-size="9.3" text-anchor="middle" fill="#4D4D4D" font-weight="bold" >0</text>
<line x1="619.45" y1="307.60" x2="619.45" y2="311.30" stroke="#333" stroke-width="1.0" />
<text transform="translate(619.45,321.50) scale(1,1.15)" font-size="9.3" text-anchor="middle" fill="#4D4D4D" font-weight="bold" >2</text>
<line x1="668.45" y1="307.60" x2="668.45" y2="311.30" stroke="#333" stroke-width="1.0" />
<text transform="translate(668.45,321.50) scale(1,1.15)" font-size="9.3" text-anchor="middle" fill="#4D4D4D" font-weight="bold" >4</text>
<text transform="translate(596.80,336.80) scale(1,1.1)" font-size="12" text-anchor="middle" fill="#000" font-weight="bold" >rxCOV score</text>
<text transform="translate(470.30,104.50) scale(1,1.16)" font-size="16" text-anchor="start" fill="#000" font-weight="bold" >(C)</text></g></svg>
</body></html>
